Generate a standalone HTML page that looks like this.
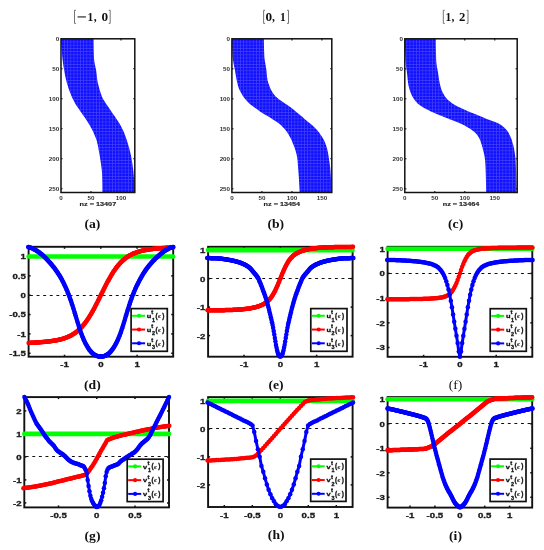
<!DOCTYPE html>
<html><head><meta charset="utf-8"><style>
html,body{margin:0;padding:0;background:#fff;}
svg{display:block;will-change:transform;}
</style></head><body>
<svg width="544" height="550" viewBox="0 0 544 550">
<defs>
<pattern id="spyfill" width="3.2" height="3.2" patternUnits="userSpaceOnUse">
<rect width="3.2" height="3.2" fill="#4040ff"/>
<rect x="0.7" y="0.7" width="2.5" height="2.5" fill="#1010ff"/>
</pattern>
<marker id="mb" markerUnits="userSpaceOnUse" markerWidth="6" markerHeight="6" refX="3" refY="3" viewBox="0 0 6 6" overflow="visible"><circle cx="3" cy="3" r="2.25" fill="#0000ff"/></marker>
<marker id="mr" markerUnits="userSpaceOnUse" markerWidth="6" markerHeight="6" refX="3" refY="3" viewBox="0 0 6 6" overflow="visible"><circle cx="3" cy="3" r="2.25" fill="#ff0000"/></marker>
<marker id="mg" markerUnits="userSpaceOnUse" markerWidth="6" markerHeight="6" refX="3" refY="3" viewBox="0 0 6 6" overflow="visible"><circle cx="3" cy="3" r="2.25" fill="#00ff00"/></marker>
</defs>
<rect width="544" height="550" fill="#fff"/>
<path d="M76,10.3 L74.5,10.3 L74.5,23.4 L76,23.4" fill="none" stroke="#666" stroke-width="0.9"/>
<rect x="77.6" y="16.35" width="8.3" height="1.15" fill="#222"/>
<text transform="translate(87.6,20.5) scale(1.0,1)" font-family='"Liberation Serif", serif' font-size="11.5" font-weight="bold" fill="#111">1</text>
<text transform="translate(93.8,20.5) scale(1.0,1)" font-family='"Liberation Serif", serif' font-size="11.5" font-weight="bold" fill="#111">,</text>
<text transform="translate(101.4,20.5) scale(1.15,1)" font-family='"Liberation Serif", serif' font-size="11.5" font-weight="bold" fill="#111">0</text>
<path d="M108.7,10.3 L110.2,10.3 L110.2,23.4 L108.7,23.4" fill="none" stroke="#666" stroke-width="0.9"/>
<path d="M265.1,10.3 L263.6,10.3 L263.6,23.4 L265.1,23.4" fill="none" stroke="#666" stroke-width="0.9"/>
<text transform="translate(265.4,20.5) scale(1.15,1)" font-family='"Liberation Serif", serif' font-size="11.5" font-weight="bold" fill="#111">0</text>
<text transform="translate(272,20.5) scale(1.0,1)" font-family='"Liberation Serif", serif' font-size="11.5" font-weight="bold" fill="#111">,</text>
<text transform="translate(280.1,20.5) scale(1.0,1)" font-family='"Liberation Serif", serif' font-size="11.5" font-weight="bold" fill="#111">1</text>
<path d="M287,10.3 L288.5,10.3 L288.5,23.4 L287,23.4" fill="none" stroke="#666" stroke-width="0.9"/>
<path d="M444.8,10.3 L443.3,10.3 L443.3,23.4 L444.8,23.4" fill="none" stroke="#666" stroke-width="0.9"/>
<text transform="translate(445.4,20.5) scale(1.0,1)" font-family='"Liberation Serif", serif' font-size="11.5" font-weight="bold" fill="#111">1</text>
<text transform="translate(451.6,20.5) scale(1.0,1)" font-family='"Liberation Serif", serif' font-size="11.5" font-weight="bold" fill="#111">,</text>
<text transform="translate(459.1,20.5) scale(1.1,1)" font-family='"Liberation Serif", serif' font-size="11.5" font-weight="bold" fill="#111">2</text>
<path d="M466.5,10.3 L468,10.3 L468,23.4 L466.5,23.4" fill="none" stroke="#666" stroke-width="0.9"/>
<text transform="translate(59.2,40.9) scale(1.1,1)" font-family='"Liberation Sans", sans-serif' font-size="5.7" font-weight="bold" text-anchor="end" fill="#333">0</text>
<line x1="61" y1="68.8" x2="62.6" y2="68.8" stroke="#111" stroke-width="1.1"/>
<line x1="134.8" y1="68.8" x2="133.2" y2="68.8" stroke="#111" stroke-width="1.1"/>
<text transform="translate(59.2,70.9) scale(1.1,1)" font-family='"Liberation Sans", sans-serif' font-size="5.7" font-weight="bold" text-anchor="end" fill="#333">50</text>
<line x1="61" y1="98.8" x2="62.6" y2="98.8" stroke="#111" stroke-width="1.1"/>
<line x1="134.8" y1="98.8" x2="133.2" y2="98.8" stroke="#111" stroke-width="1.1"/>
<text transform="translate(59.2,100.9) scale(1.1,1)" font-family='"Liberation Sans", sans-serif' font-size="5.7" font-weight="bold" text-anchor="end" fill="#333">100</text>
<line x1="61" y1="128.8" x2="62.6" y2="128.8" stroke="#111" stroke-width="1.1"/>
<line x1="134.8" y1="128.8" x2="133.2" y2="128.8" stroke="#111" stroke-width="1.1"/>
<text transform="translate(59.2,130.9) scale(1.1,1)" font-family='"Liberation Sans", sans-serif' font-size="5.7" font-weight="bold" text-anchor="end" fill="#333">150</text>
<line x1="61" y1="158.8" x2="62.6" y2="158.8" stroke="#111" stroke-width="1.1"/>
<line x1="134.8" y1="158.8" x2="133.2" y2="158.8" stroke="#111" stroke-width="1.1"/>
<text transform="translate(59.2,160.9) scale(1.1,1)" font-family='"Liberation Sans", sans-serif' font-size="5.7" font-weight="bold" text-anchor="end" fill="#333">200</text>
<line x1="61" y1="188.8" x2="62.6" y2="188.8" stroke="#111" stroke-width="1.1"/>
<line x1="134.8" y1="188.8" x2="133.2" y2="188.8" stroke="#111" stroke-width="1.1"/>
<text transform="translate(59.2,190.9) scale(1.1,1)" font-family='"Liberation Sans", sans-serif' font-size="5.7" font-weight="bold" text-anchor="end" fill="#333">250</text>
<text transform="translate(61,199.7) scale(1.1,1)" font-family='"Liberation Sans", sans-serif' font-size="5.7" font-weight="bold" text-anchor="middle" fill="#333">0</text>
<line x1="91" y1="38.8" x2="91" y2="40.4" stroke="#111" stroke-width="1.1"/>
<line x1="91" y1="192.5" x2="91" y2="190.9" stroke="#111" stroke-width="1.1"/>
<text transform="translate(91,199.7) scale(1.1,1)" font-family='"Liberation Sans", sans-serif' font-size="5.7" font-weight="bold" text-anchor="middle" fill="#333">50</text>
<line x1="121" y1="38.8" x2="121" y2="40.4" stroke="#111" stroke-width="1.1"/>
<line x1="121" y1="192.5" x2="121" y2="190.9" stroke="#111" stroke-width="1.1"/>
<text transform="translate(121,199.7) scale(1.1,1)" font-family='"Liberation Sans", sans-serif' font-size="5.7" font-weight="bold" text-anchor="middle" fill="#333">100</text>
<text transform="translate(97.9,206.3) scale(1.28,1)" font-family='"Liberation Sans", sans-serif' font-size="5.7" font-weight="bold" text-anchor="middle" fill="#222" stroke="#222" stroke-width="0.15">nz = 13407</text>
<path d="M61,38.8 L61.04,40.09 L61.1,41.38 L61.16,42.67 L61.23,43.97 L61.31,45.26 L61.4,46.55 L61.49,47.84 L61.59,49.13 L61.7,50.42 L61.81,51.72 L61.92,53.01 L62.04,54.3 L62.16,55.59 L62.29,56.88 L62.42,58.17 L62.56,59.47 L62.71,60.76 L62.87,62.05 L63.05,63.34 L63.24,64.63 L63.44,65.92 L63.64,67.22 L63.86,68.51 L64.08,69.8 L64.3,71.09 L64.53,72.38 L64.76,73.67 L65,74.96 L65.26,76.26 L65.53,77.55 L65.82,78.84 L66.13,80.13 L66.46,81.42 L66.82,82.71 L67.19,84.01 L67.58,85.3 L67.99,86.59 L68.41,87.88 L68.86,89.17 L69.31,90.46 L69.78,91.76 L70.27,93.05 L70.78,94.34 L71.32,95.63 L71.88,96.92 L72.47,98.21 L73.08,99.51 L73.72,100.8 L74.39,102.09 L75.12,103.38 L75.91,104.67 L76.74,105.96 L77.61,107.25 L78.5,108.55 L79.38,109.84 L80.25,111.13 L81.14,112.42 L82.04,113.71 L82.96,115 L83.89,116.3 L84.8,117.59 L85.69,118.88 L86.55,120.17 L87.36,121.46 L88.16,122.75 L88.95,124.05 L89.72,125.34 L90.47,126.63 L91.19,127.92 L91.88,129.21 L92.53,130.5 L93.14,131.79 L93.72,133.09 L94.3,134.38 L94.85,135.67 L95.38,136.96 L95.87,138.25 L96.32,139.54 L96.73,140.84 L97.09,142.13 L97.4,143.42 L97.69,144.71 L97.96,146 L98.21,147.29 L98.44,148.59 L98.67,149.88 L98.89,151.17 L99.12,152.46 L99.35,153.75 L99.58,155.04 L99.8,156.34 L100.02,157.63 L100.23,158.92 L100.42,160.21 L100.6,161.5 L100.79,162.79 L100.98,164.08 L101.17,165.38 L101.35,166.67 L101.52,167.96 L101.67,169.25 L101.81,170.54 L101.93,171.83 L102.02,173.13 L102.09,174.42 L102.13,175.71 L102.16,177 L102.2,178.29 L102.23,179.58 L102.26,180.88 L102.29,182.17 L102.31,183.46 L102.34,184.75 L102.35,186.04 L102.37,187.33 L102.38,188.63 L102.39,189.92 L102.4,191.21 L102.4,192.5 L134.8,192.5 L134.76,191.21 L134.72,189.92 L134.66,188.63 L134.6,187.33 L134.53,186.04 L134.45,184.75 L134.37,183.46 L134.28,182.17 L134.19,180.88 L134.09,179.58 L133.99,178.29 L133.88,177 L133.78,175.71 L133.67,174.42 L133.55,173.13 L133.42,171.83 L133.27,170.54 L133.12,169.25 L132.96,167.96 L132.78,166.67 L132.6,165.38 L132.42,164.08 L132.22,162.79 L132.02,161.5 L131.82,160.21 L131.6,158.92 L131.37,157.63 L131.12,156.34 L130.85,155.04 L130.57,153.75 L130.28,152.46 L129.98,151.17 L129.65,149.88 L129.31,148.59 L128.95,147.29 L128.58,146 L128.19,144.71 L127.8,143.42 L127.4,142.13 L127,140.84 L126.59,139.54 L126.16,138.25 L125.73,136.96 L125.27,135.67 L124.79,134.38 L124.28,133.09 L123.73,131.79 L123.15,130.5 L122.53,129.21 L121.88,127.92 L121.2,126.63 L120.49,125.34 L119.77,124.05 L119,122.75 L118.18,121.46 L117.33,120.17 L116.45,118.88 L115.56,117.59 L114.67,116.3 L113.8,115 L112.92,113.71 L112.03,112.42 L111.14,111.13 L110.25,109.84 L109.37,108.55 L108.5,107.25 L107.64,105.96 L106.76,104.67 L105.87,103.38 L104.99,102.09 L104.15,100.8 L103.37,99.51 L102.69,98.21 L102.11,96.92 L101.59,95.63 L101.11,94.34 L100.67,93.05 L100.26,91.76 L99.88,90.46 L99.5,89.17 L99.14,87.88 L98.78,86.59 L98.44,85.3 L98.11,84.01 L97.81,82.71 L97.54,81.42 L97.32,80.13 L97.14,78.84 L97,77.55 L96.87,76.26 L96.74,74.96 L96.61,73.67 L96.44,72.38 L96.24,71.09 L96,69.8 L95.74,68.51 L95.47,67.22 L95.19,65.92 L94.92,64.63 L94.66,63.34 L94.44,62.05 L94.24,60.76 L94.1,59.47 L94.01,58.17 L93.96,56.88 L93.91,55.59 L93.87,54.3 L93.83,53.01 L93.79,51.72 L93.76,50.42 L93.72,49.13 L93.7,47.84 L93.67,46.55 L93.65,45.26 L93.63,43.97 L93.62,42.67 L93.61,41.38 L93.6,40.09 L93.6,38.8 Z" fill="url(#spyfill)"/>
<rect x="61" y="38.8" width="73.8" height="153.7" fill="none" stroke="#111" stroke-width="1.5"/>
<text transform="translate(230.1,40.9) scale(1.1,1)" font-family='"Liberation Sans", sans-serif' font-size="5.7" font-weight="bold" text-anchor="end" fill="#333">0</text>
<line x1="231.9" y1="68.8" x2="233.5" y2="68.8" stroke="#111" stroke-width="1.1"/>
<line x1="331.8" y1="68.8" x2="330.2" y2="68.8" stroke="#111" stroke-width="1.1"/>
<text transform="translate(230.1,70.9) scale(1.1,1)" font-family='"Liberation Sans", sans-serif' font-size="5.7" font-weight="bold" text-anchor="end" fill="#333">50</text>
<line x1="231.9" y1="98.8" x2="233.5" y2="98.8" stroke="#111" stroke-width="1.1"/>
<line x1="331.8" y1="98.8" x2="330.2" y2="98.8" stroke="#111" stroke-width="1.1"/>
<text transform="translate(230.1,100.9) scale(1.1,1)" font-family='"Liberation Sans", sans-serif' font-size="5.7" font-weight="bold" text-anchor="end" fill="#333">100</text>
<line x1="231.9" y1="128.8" x2="233.5" y2="128.8" stroke="#111" stroke-width="1.1"/>
<line x1="331.8" y1="128.8" x2="330.2" y2="128.8" stroke="#111" stroke-width="1.1"/>
<text transform="translate(230.1,130.9) scale(1.1,1)" font-family='"Liberation Sans", sans-serif' font-size="5.7" font-weight="bold" text-anchor="end" fill="#333">150</text>
<line x1="231.9" y1="158.8" x2="233.5" y2="158.8" stroke="#111" stroke-width="1.1"/>
<line x1="331.8" y1="158.8" x2="330.2" y2="158.8" stroke="#111" stroke-width="1.1"/>
<text transform="translate(230.1,160.9) scale(1.1,1)" font-family='"Liberation Sans", sans-serif' font-size="5.7" font-weight="bold" text-anchor="end" fill="#333">200</text>
<line x1="231.9" y1="188.8" x2="233.5" y2="188.8" stroke="#111" stroke-width="1.1"/>
<line x1="331.8" y1="188.8" x2="330.2" y2="188.8" stroke="#111" stroke-width="1.1"/>
<text transform="translate(230.1,190.9) scale(1.1,1)" font-family='"Liberation Sans", sans-serif' font-size="5.7" font-weight="bold" text-anchor="end" fill="#333">250</text>
<text transform="translate(231.9,199.7) scale(1.1,1)" font-family='"Liberation Sans", sans-serif' font-size="5.7" font-weight="bold" text-anchor="middle" fill="#333">0</text>
<line x1="261.9" y1="38.8" x2="261.9" y2="40.4" stroke="#111" stroke-width="1.1"/>
<line x1="261.9" y1="192.5" x2="261.9" y2="190.9" stroke="#111" stroke-width="1.1"/>
<text transform="translate(261.9,199.7) scale(1.1,1)" font-family='"Liberation Sans", sans-serif' font-size="5.7" font-weight="bold" text-anchor="middle" fill="#333">50</text>
<line x1="291.9" y1="38.8" x2="291.9" y2="40.4" stroke="#111" stroke-width="1.1"/>
<line x1="291.9" y1="192.5" x2="291.9" y2="190.9" stroke="#111" stroke-width="1.1"/>
<text transform="translate(291.9,199.7) scale(1.1,1)" font-family='"Liberation Sans", sans-serif' font-size="5.7" font-weight="bold" text-anchor="middle" fill="#333">100</text>
<line x1="321.9" y1="38.8" x2="321.9" y2="40.4" stroke="#111" stroke-width="1.1"/>
<line x1="321.9" y1="192.5" x2="321.9" y2="190.9" stroke="#111" stroke-width="1.1"/>
<text transform="translate(321.9,199.7) scale(1.1,1)" font-family='"Liberation Sans", sans-serif' font-size="5.7" font-weight="bold" text-anchor="middle" fill="#333">150</text>
<text transform="translate(281.85,206.3) scale(1.28,1)" font-family='"Liberation Sans", sans-serif' font-size="5.7" font-weight="bold" text-anchor="middle" fill="#222" stroke="#222" stroke-width="0.15">nz = 13454</text>
<path d="M232,38.8 L232,40.09 L232.01,41.38 L232.03,42.67 L232.05,43.97 L232.08,45.26 L232.11,46.55 L232.15,47.84 L232.2,49.13 L232.25,50.42 L232.3,51.72 L232.36,53.01 L232.42,54.3 L232.48,55.59 L232.57,56.88 L232.7,58.17 L232.87,59.47 L233.07,60.76 L233.3,62.05 L233.54,63.34 L233.78,64.63 L234.02,65.92 L234.29,67.22 L234.58,68.51 L234.86,69.8 L235.1,71.09 L235.32,72.38 L235.52,73.67 L235.73,74.96 L235.94,76.26 L236.16,77.55 L236.41,78.84 L236.67,80.13 L236.95,81.42 L237.24,82.71 L237.55,84.01 L237.89,85.3 L238.27,86.59 L238.7,87.88 L239.2,89.17 L239.78,90.46 L240.43,91.76 L241.14,93.05 L241.9,94.34 L242.7,95.63 L243.57,96.92 L244.53,98.21 L245.56,99.51 L246.69,100.8 L247.9,102.09 L249.24,103.38 L250.78,104.67 L252.47,105.96 L254.22,107.25 L255.97,108.55 L257.75,109.84 L259.6,111.13 L261.51,112.42 L263.49,113.71 L265.62,115 L267.85,116.3 L270.04,117.59 L272.09,118.88 L274.1,120.17 L276.06,121.46 L277.91,122.75 L279.58,124.05 L281.06,125.34 L282.42,126.63 L283.68,127.92 L284.82,129.21 L285.86,130.5 L286.8,131.79 L287.68,133.09 L288.5,134.38 L289.26,135.67 L289.97,136.96 L290.63,138.25 L291.24,139.54 L291.82,140.84 L292.36,142.13 L292.88,143.42 L293.39,144.71 L293.89,146 L294.39,147.29 L294.88,148.59 L295.33,149.88 L295.73,151.17 L296.07,152.46 L296.39,153.75 L296.69,155.04 L296.96,156.34 L297.19,157.63 L297.38,158.92 L297.52,160.21 L297.64,161.5 L297.74,162.79 L297.83,164.08 L297.92,165.38 L298.01,166.67 L298.1,167.96 L298.21,169.25 L298.32,170.54 L298.42,171.83 L298.53,173.13 L298.63,174.42 L298.73,175.71 L298.82,177 L298.91,178.29 L298.98,179.58 L299.06,180.88 L299.13,182.17 L299.2,183.46 L299.27,184.75 L299.34,186.04 L299.4,187.33 L299.45,188.63 L299.51,189.92 L299.56,191.21 L299.6,192.5 L331.4,192.5 L331.4,191.21 L331.38,189.92 L331.36,188.63 L331.33,187.33 L331.3,186.04 L331.25,184.75 L331.2,183.46 L331.15,182.17 L331.09,180.88 L331.02,179.58 L330.96,178.29 L330.88,177 L330.81,175.71 L330.73,174.42 L330.64,173.13 L330.56,171.83 L330.48,170.54 L330.37,169.25 L330.24,167.96 L330.09,166.67 L329.92,165.38 L329.74,164.08 L329.55,162.79 L329.36,161.5 L329.16,160.21 L328.97,158.92 L328.78,157.63 L328.59,156.34 L328.39,155.04 L328.18,153.75 L327.94,152.46 L327.69,151.17 L327.4,149.88 L327.08,148.59 L326.71,147.29 L326.31,146 L325.86,144.71 L325.38,143.42 L324.86,142.13 L324.3,140.84 L323.65,139.54 L322.92,138.25 L322.13,136.96 L321.28,135.67 L320.39,134.38 L319.47,133.09 L318.49,131.79 L317.43,130.5 L316.31,129.21 L315.11,127.92 L313.82,126.63 L312.34,125.34 L310.72,124.05 L309.13,122.75 L307.6,121.46 L306.09,120.17 L304.59,118.88 L303.07,117.59 L301.55,116.3 L300.04,115 L298.53,113.71 L296.99,112.42 L295.41,111.13 L293.81,109.84 L292.19,108.55 L290.52,107.25 L288.81,105.96 L287,104.67 L285.01,103.38 L282.95,102.09 L280.97,100.8 L279.23,99.51 L277.7,98.21 L276.26,96.92 L274.96,95.63 L273.82,94.34 L272.9,93.05 L272.1,91.76 L271.38,90.46 L270.74,89.17 L270.17,87.88 L269.65,86.59 L269.16,85.3 L268.7,84.01 L268.26,82.71 L267.88,81.42 L267.55,80.13 L267.31,78.84 L267.13,77.55 L266.98,76.26 L266.86,74.96 L266.75,73.67 L266.64,72.38 L266.52,71.09 L266.38,69.8 L266.2,68.51 L265.99,67.22 L265.76,65.92 L265.52,64.63 L265.28,63.34 L265.05,62.05 L264.83,60.76 L264.64,59.47 L264.48,58.17 L264.36,56.88 L264.29,55.59 L264.24,54.3 L264.19,53.01 L264.14,51.72 L264.1,50.42 L264.06,49.13 L264.02,47.84 L263.99,46.55 L263.97,45.26 L263.94,43.97 L263.92,42.67 L263.91,41.38 L263.9,40.09 L263.9,38.8 Z" fill="url(#spyfill)"/>
<rect x="231.9" y="38.8" width="99.9" height="153.7" fill="none" stroke="#111" stroke-width="1.5"/>
<text transform="translate(403,40.9) scale(1.1,1)" font-family='"Liberation Sans", sans-serif' font-size="5.7" font-weight="bold" text-anchor="end" fill="#333">0</text>
<line x1="404.8" y1="68.8" x2="406.4" y2="68.8" stroke="#111" stroke-width="1.1"/>
<line x1="517.2" y1="68.8" x2="515.6" y2="68.8" stroke="#111" stroke-width="1.1"/>
<text transform="translate(403,70.9) scale(1.1,1)" font-family='"Liberation Sans", sans-serif' font-size="5.7" font-weight="bold" text-anchor="end" fill="#333">50</text>
<line x1="404.8" y1="98.8" x2="406.4" y2="98.8" stroke="#111" stroke-width="1.1"/>
<line x1="517.2" y1="98.8" x2="515.6" y2="98.8" stroke="#111" stroke-width="1.1"/>
<text transform="translate(403,100.9) scale(1.1,1)" font-family='"Liberation Sans", sans-serif' font-size="5.7" font-weight="bold" text-anchor="end" fill="#333">100</text>
<line x1="404.8" y1="128.8" x2="406.4" y2="128.8" stroke="#111" stroke-width="1.1"/>
<line x1="517.2" y1="128.8" x2="515.6" y2="128.8" stroke="#111" stroke-width="1.1"/>
<text transform="translate(403,130.9) scale(1.1,1)" font-family='"Liberation Sans", sans-serif' font-size="5.7" font-weight="bold" text-anchor="end" fill="#333">150</text>
<line x1="404.8" y1="158.8" x2="406.4" y2="158.8" stroke="#111" stroke-width="1.1"/>
<line x1="517.2" y1="158.8" x2="515.6" y2="158.8" stroke="#111" stroke-width="1.1"/>
<text transform="translate(403,160.9) scale(1.1,1)" font-family='"Liberation Sans", sans-serif' font-size="5.7" font-weight="bold" text-anchor="end" fill="#333">200</text>
<line x1="404.8" y1="188.8" x2="406.4" y2="188.8" stroke="#111" stroke-width="1.1"/>
<line x1="517.2" y1="188.8" x2="515.6" y2="188.8" stroke="#111" stroke-width="1.1"/>
<text transform="translate(403,190.9) scale(1.1,1)" font-family='"Liberation Sans", sans-serif' font-size="5.7" font-weight="bold" text-anchor="end" fill="#333">250</text>
<text transform="translate(404.8,199.7) scale(1.1,1)" font-family='"Liberation Sans", sans-serif' font-size="5.7" font-weight="bold" text-anchor="middle" fill="#333">0</text>
<line x1="434.8" y1="38.8" x2="434.8" y2="40.4" stroke="#111" stroke-width="1.1"/>
<line x1="434.8" y1="192.5" x2="434.8" y2="190.9" stroke="#111" stroke-width="1.1"/>
<text transform="translate(434.8,199.7) scale(1.1,1)" font-family='"Liberation Sans", sans-serif' font-size="5.7" font-weight="bold" text-anchor="middle" fill="#333">50</text>
<line x1="464.8" y1="38.8" x2="464.8" y2="40.4" stroke="#111" stroke-width="1.1"/>
<line x1="464.8" y1="192.5" x2="464.8" y2="190.9" stroke="#111" stroke-width="1.1"/>
<text transform="translate(464.8,199.7) scale(1.1,1)" font-family='"Liberation Sans", sans-serif' font-size="5.7" font-weight="bold" text-anchor="middle" fill="#333">100</text>
<line x1="494.8" y1="38.8" x2="494.8" y2="40.4" stroke="#111" stroke-width="1.1"/>
<line x1="494.8" y1="192.5" x2="494.8" y2="190.9" stroke="#111" stroke-width="1.1"/>
<text transform="translate(494.8,199.7) scale(1.1,1)" font-family='"Liberation Sans", sans-serif' font-size="5.7" font-weight="bold" text-anchor="middle" fill="#333">150</text>
<text transform="translate(461,206.3) scale(1.28,1)" font-family='"Liberation Sans", sans-serif' font-size="5.7" font-weight="bold" text-anchor="middle" fill="#222" stroke="#222" stroke-width="0.15">nz = 13464</text>
<path d="M404.9,38.8 L404.9,40.09 L404.91,41.38 L404.93,42.67 L404.94,43.97 L404.97,45.26 L405,46.55 L405.03,47.84 L405.07,49.13 L405.11,50.42 L405.15,51.72 L405.2,53.01 L405.25,54.3 L405.3,55.59 L405.36,56.88 L405.42,58.17 L405.48,59.47 L405.54,60.76 L405.63,62.05 L405.74,63.34 L405.88,64.63 L406.03,65.92 L406.19,67.22 L406.36,68.51 L406.53,69.8 L406.71,71.09 L406.88,72.38 L407.04,73.67 L407.2,74.96 L407.34,76.26 L407.46,77.55 L407.59,78.84 L407.72,80.13 L407.87,81.42 L408.04,82.71 L408.23,84.01 L408.47,85.3 L408.75,86.59 L409.08,87.88 L409.45,89.17 L409.85,90.46 L410.29,91.76 L410.77,93.05 L411.31,94.34 L411.93,95.63 L412.63,96.92 L413.42,98.21 L414.29,99.51 L415.24,100.8 L416.31,102.09 L417.63,103.38 L419.2,104.67 L420.96,105.96 L422.88,107.25 L425.06,108.55 L427.61,109.84 L430.39,111.13 L433.23,112.42 L436.1,113.71 L439.09,115 L442.21,116.3 L445.47,117.59 L448.97,118.88 L452.42,120.17 L455.6,121.46 L458.67,122.75 L461.55,124.05 L464.15,125.34 L466.57,126.63 L468.79,127.92 L470.74,129.21 L472.47,130.5 L474.08,131.79 L475.54,133.09 L476.78,134.38 L477.75,135.67 L478.55,136.96 L479.23,138.25 L479.83,139.54 L480.36,140.84 L480.84,142.13 L481.28,143.42 L481.68,144.71 L482.05,146 L482.39,147.29 L482.72,148.59 L483.05,149.88 L483.38,151.17 L483.71,152.46 L484.02,153.75 L484.3,155.04 L484.55,156.34 L484.76,157.63 L484.91,158.92 L485.04,160.21 L485.15,161.5 L485.26,162.79 L485.35,164.08 L485.43,165.38 L485.5,166.67 L485.56,167.96 L485.61,169.25 L485.65,170.54 L485.69,171.83 L485.74,173.13 L485.78,174.42 L485.82,175.71 L485.85,177 L485.89,178.29 L485.92,179.58 L485.95,180.88 L485.98,182.17 L486.01,183.46 L486.03,184.75 L486.05,186.04 L486.07,187.33 L486.08,188.63 L486.09,189.92 L486.1,191.21 L486.1,192.5 L516.5,192.5 L516.49,191.21 L516.47,189.92 L516.45,188.63 L516.44,187.33 L516.42,186.04 L516.39,184.75 L516.37,183.46 L516.34,182.17 L516.32,180.88 L516.29,179.58 L516.26,178.29 L516.23,177 L516.2,175.71 L516.17,174.42 L516.14,173.13 L516.1,171.83 L516.06,170.54 L516.02,169.25 L515.98,167.96 L515.93,166.67 L515.87,165.38 L515.81,164.08 L515.75,162.79 L515.68,161.5 L515.6,160.21 L515.49,158.92 L515.36,157.63 L515.22,156.34 L515.05,155.04 L514.88,153.75 L514.69,152.46 L514.49,151.17 L514.28,149.88 L514.04,148.59 L513.77,147.29 L513.46,146 L513.13,144.71 L512.77,143.42 L512.39,142.13 L511.99,140.84 L511.56,139.54 L511.09,138.25 L510.58,136.96 L510.02,135.67 L509.4,134.38 L508.7,133.09 L507.9,131.79 L506.98,130.5 L505.92,129.21 L504.72,127.92 L503.28,126.63 L501.52,125.34 L499.46,124.05 L497,122.75 L493.81,121.46 L490.25,120.17 L486.72,118.88 L483.52,117.59 L480.45,116.3 L477.4,115 L474.3,113.71 L471.09,112.42 L467.87,111.13 L464.83,109.84 L462,108.55 L459.25,107.25 L456.69,105.96 L454.43,104.67 L452.45,103.38 L450.61,102.09 L448.94,100.8 L447.51,99.51 L446.37,98.21 L445.38,96.92 L444.49,95.63 L443.68,94.34 L442.96,93.05 L442.33,91.76 L441.78,90.46 L441.32,89.17 L440.91,87.88 L440.55,86.59 L440.22,85.3 L439.92,84.01 L439.65,82.71 L439.4,81.42 L439.16,80.13 L438.95,78.84 L438.77,77.55 L438.58,76.26 L438.39,74.96 L438.19,73.67 L437.97,72.38 L437.74,71.09 L437.5,69.8 L437.26,68.51 L437.04,67.22 L436.82,65.92 L436.63,64.63 L436.46,63.34 L436.33,62.05 L436.23,60.76 L436.18,59.47 L436.14,58.17 L436.1,56.88 L436.06,55.59 L436.02,54.3 L435.99,53.01 L435.96,51.72 L435.93,50.42 L435.9,49.13 L435.88,47.84 L435.86,46.55 L435.84,45.26 L435.83,43.97 L435.81,42.67 L435.81,41.38 L435.8,40.09 L435.8,38.8 Z" fill="url(#spyfill)"/>
<rect x="404.8" y="38.8" width="112.4" height="153.7" fill="none" stroke="#111" stroke-width="1.5"/>
<text transform="translate(92.4,228.4) scale(1.12,1)" font-family='"Liberation Serif", serif' font-size="12.2" font-weight="bold" text-anchor="middle" fill="#111">(a)</text>
<text transform="translate(275.8,228.4) scale(1.12,1)" font-family='"Liberation Serif", serif' font-size="12.2" font-weight="bold" text-anchor="middle" fill="#111">(b)</text>
<text transform="translate(455.6,228.4) scale(1.12,1)" font-family='"Liberation Serif", serif' font-size="12.2" font-weight="bold" text-anchor="middle" fill="#111">(c)</text>
<text transform="translate(92.4,388.6) scale(1.12,1)" font-family='"Liberation Serif", serif' font-size="12.2" font-weight="bold" text-anchor="middle" fill="#111">(d)</text>
<text transform="translate(276,389) scale(1.12,1)" font-family='"Liberation Serif", serif' font-size="12.2" font-weight="bold" text-anchor="middle" fill="#111">(e)</text>
<text transform="translate(455.5,388.9) scale(1.12,1)" font-family='"Liberation Serif", serif' font-size="12.2" font-weight="normal" text-anchor="middle" fill="#111">(f)</text>
<text transform="translate(92.5,539.6) scale(1.12,1)" font-family='"Liberation Serif", serif' font-size="12.2" font-weight="bold" text-anchor="middle" fill="#111">(g)</text>
<text transform="translate(276.2,539.4) scale(1.12,1)" font-family='"Liberation Serif", serif' font-size="12.2" font-weight="bold" text-anchor="middle" fill="#111">(h)</text>
<text transform="translate(455.5,539.6) scale(1.12,1)" font-family='"Liberation Serif", serif' font-size="12.2" font-weight="bold" text-anchor="middle" fill="#111">(i)</text>
<line x1="28.6" y1="295.5" x2="173.2" y2="295.5" stroke="#111" stroke-width="1" stroke-dasharray="2.9 3.7" stroke-dashoffset="-1.4"/>
<rect x="28.6" y="246.8" width="144.6" height="109.9" fill="none" stroke="#111" stroke-width="1.9"/>
<line x1="64.5" y1="246.8" x2="64.5" y2="248.8" stroke="#111" stroke-width="1.5"/>
<line x1="64.5" y1="356.7" x2="64.5" y2="354.7" stroke="#111" stroke-width="1.5"/>
<text transform="translate(64.5,367.2) scale(1.27,1)" font-family='"Liberation Sans", sans-serif' font-size="7.6" font-weight="bold" text-anchor="middle" fill="#1a1a1a" stroke="#1a1a1a" stroke-width="0.3">-1</text>
<line x1="100.8" y1="246.8" x2="100.8" y2="248.8" stroke="#111" stroke-width="1.5"/>
<line x1="100.8" y1="356.7" x2="100.8" y2="354.7" stroke="#111" stroke-width="1.5"/>
<text transform="translate(100.8,367.2) scale(1.27,1)" font-family='"Liberation Sans", sans-serif' font-size="7.6" font-weight="bold" text-anchor="middle" fill="#1a1a1a" stroke="#1a1a1a" stroke-width="0.3">0</text>
<line x1="137.1" y1="246.8" x2="137.1" y2="248.8" stroke="#111" stroke-width="1.5"/>
<line x1="137.1" y1="356.7" x2="137.1" y2="354.7" stroke="#111" stroke-width="1.5"/>
<text transform="translate(137.1,367.2) scale(1.27,1)" font-family='"Liberation Sans", sans-serif' font-size="7.6" font-weight="bold" text-anchor="middle" fill="#1a1a1a" stroke="#1a1a1a" stroke-width="0.3">1</text>
<line x1="28.6" y1="256.5" x2="30.6" y2="256.5" stroke="#111" stroke-width="1.5"/>
<line x1="173.2" y1="256.5" x2="171.2" y2="256.5" stroke="#111" stroke-width="1.5"/>
<text transform="translate(25.9,259.4) scale(1.27,1)" font-family='"Liberation Sans", sans-serif' font-size="7.6" font-weight="bold" text-anchor="end" fill="#1a1a1a" stroke="#1a1a1a" stroke-width="0.3">1</text>
<line x1="28.6" y1="275.85" x2="30.6" y2="275.85" stroke="#111" stroke-width="1.5"/>
<line x1="173.2" y1="275.85" x2="171.2" y2="275.85" stroke="#111" stroke-width="1.5"/>
<text transform="translate(25.9,278.75) scale(1.27,1)" font-family='"Liberation Sans", sans-serif' font-size="7.6" font-weight="bold" text-anchor="end" fill="#1a1a1a" stroke="#1a1a1a" stroke-width="0.3">0.5</text>
<line x1="28.6" y1="295.2" x2="30.6" y2="295.2" stroke="#111" stroke-width="1.5"/>
<line x1="173.2" y1="295.2" x2="171.2" y2="295.2" stroke="#111" stroke-width="1.5"/>
<text transform="translate(25.9,298.1) scale(1.27,1)" font-family='"Liberation Sans", sans-serif' font-size="7.6" font-weight="bold" text-anchor="end" fill="#1a1a1a" stroke="#1a1a1a" stroke-width="0.3">0</text>
<line x1="28.6" y1="314.55" x2="30.6" y2="314.55" stroke="#111" stroke-width="1.5"/>
<line x1="173.2" y1="314.55" x2="171.2" y2="314.55" stroke="#111" stroke-width="1.5"/>
<text transform="translate(25.9,317.45) scale(1.27,1)" font-family='"Liberation Sans", sans-serif' font-size="7.6" font-weight="bold" text-anchor="end" fill="#1a1a1a" stroke="#1a1a1a" stroke-width="0.3">-0.5</text>
<line x1="28.6" y1="333.9" x2="30.6" y2="333.9" stroke="#111" stroke-width="1.5"/>
<line x1="173.2" y1="333.9" x2="171.2" y2="333.9" stroke="#111" stroke-width="1.5"/>
<text transform="translate(25.9,336.8) scale(1.27,1)" font-family='"Liberation Sans", sans-serif' font-size="7.6" font-weight="bold" text-anchor="end" fill="#1a1a1a" stroke="#1a1a1a" stroke-width="0.3">-1</text>
<line x1="28.6" y1="353.25" x2="30.6" y2="353.25" stroke="#111" stroke-width="1.5"/>
<line x1="173.2" y1="353.25" x2="171.2" y2="353.25" stroke="#111" stroke-width="1.5"/>
<text transform="translate(25.9,356.15) scale(1.27,1)" font-family='"Liberation Sans", sans-serif' font-size="7.6" font-weight="bold" text-anchor="end" fill="#1a1a1a" stroke="#1a1a1a" stroke-width="0.3">-1.5</text>
<line x1="28.6" y1="256.5" x2="173.2" y2="256.5" stroke="#00ff00" stroke-width="4.6" stroke-linecap="round"/>
<path d="M28.6,342.95 29.17,342.92 29.73,342.89 30.3,342.86 30.87,342.83 31.43,342.8 32,342.77 32.56,342.74 33.13,342.7 33.7,342.67 34.26,342.64 34.83,342.6 35.4,342.56 35.96,342.53 36.53,342.49 37.09,342.45 37.66,342.42 38.23,342.38 38.79,342.34 39.36,342.3 39.93,342.25 40.49,342.21 41.06,342.17 41.62,342.12 42.19,342.07 42.76,342.03 43.32,341.98 43.89,341.93 44.46,341.87 45.02,341.82 45.59,341.77 46.15,341.71 46.72,341.65 47.29,341.59 47.85,341.53 48.42,341.46 48.99,341.4 49.55,341.33 50.12,341.26 50.68,341.19 51.25,341.11 51.82,341.03 52.38,340.95 52.95,340.87 53.52,340.78 54.08,340.69 54.65,340.59 55.21,340.5 55.78,340.4 56.35,340.29 56.91,340.18 57.48,340.07 58.05,339.95 58.61,339.83 59.18,339.7 59.75,339.57 60.31,339.43 60.88,339.29 61.44,339.14 62.01,338.98 62.58,338.82 63.14,338.65 63.71,338.48 64.28,338.29 64.84,338.1 65.41,337.91 65.97,337.7 66.54,337.48 67.11,337.26 67.67,337.03 68.24,336.78 68.81,336.53 69.37,336.27 69.94,335.99 70.5,335.71 71.07,335.41 71.64,335.1 72.2,334.78 72.77,334.44 73.34,334.09 73.9,333.73 74.47,333.35 75.03,332.95 75.6,332.55 76.17,332.12 76.73,331.68 77.3,331.22 77.87,330.75 78.43,330.25 79,329.74 79.56,329.21 80.13,328.66 80.7,328.09 81.26,327.5 81.83,326.89 82.4,326.26 82.96,325.61 83.53,324.94 84.09,324.24 84.66,323.53 85.23,322.79 85.79,322.03 86.36,321.25 86.93,320.45 87.49,319.62 88.06,318.78 88.63,317.91 89.19,317.02 89.76,316.11 90.32,315.18 90.89,314.23 91.46,313.25 92.02,312.27 92.59,311.26 93.16,310.23 93.72,309.19 94.29,308.13 94.85,307.06 95.42,305.97 95.99,304.87 96.55,303.76 97.12,302.64 97.69,301.51 98.25,300.38 98.82,299.23 99.38,298.08 99.95,296.93 100.52,295.78 101.08,294.62 101.65,293.47 102.22,292.32 102.78,291.17 103.35,290.02 103.91,288.89 104.48,287.76 105.05,286.64 105.61,285.53 106.18,284.43 106.75,283.34 107.31,282.27 107.88,281.21 108.44,280.17 109.01,279.14 109.58,278.13 110.14,277.15 110.71,276.17 111.28,275.22 111.84,274.29 112.41,273.38 112.97,272.49 113.54,271.62 114.11,270.78 114.67,269.95 115.24,269.15 115.81,268.37 116.37,267.61 116.94,266.87 117.51,266.16 118.07,265.46 118.64,264.79 119.2,264.14 119.77,263.51 120.34,262.9 120.9,262.31 121.47,261.74 122.04,261.19 122.6,260.66 123.17,260.15 123.73,259.65 124.3,259.18 124.87,258.72 125.43,258.28 126,257.85 126.57,257.45 127.13,257.05 127.7,256.67 128.26,256.31 128.83,255.96 129.4,255.62 129.96,255.3 130.53,254.99 131.1,254.69 131.66,254.41 132.23,254.13 132.79,253.87 133.36,253.62 133.93,253.37 134.49,253.14 135.06,252.92 135.63,252.7 136.19,252.49 136.76,252.3 137.32,252.11 137.89,251.92 138.46,251.75 139.02,251.58 139.59,251.42 140.16,251.26 140.72,251.11 141.29,250.97 141.85,250.83 142.42,250.7 142.99,250.57 143.55,250.45 144.12,250.33 144.69,250.22 145.25,250.11 145.82,250 146.39,249.9 146.95,249.81 147.52,249.71 148.08,249.62 148.65,249.53 149.22,249.45 149.78,249.37 150.35,249.29 150.92,249.21 151.48,249.14 152.05,249.07 152.61,249 153.18,248.94 153.75,248.87 154.31,248.81 154.88,248.75 155.45,248.69 156.01,248.63 156.58,248.58 157.14,248.53 157.71,248.47 158.28,248.42 158.84,248.37 159.41,248.33 159.98,248.28 160.54,248.23 161.11,248.19 161.67,248.15 162.24,248.1 162.81,248.06 163.37,248.02 163.94,247.98 164.51,247.95 165.07,247.91 165.64,247.87 166.2,247.84 166.77,247.8 167.34,247.76 167.9,247.73 168.47,247.7 169.04,247.66 169.6,247.63 170.17,247.6 170.73,247.57 171.3,247.54 171.87,247.51 172.43,247.48 173,247.45" fill="none" stroke="#ff0000" stroke-width="3.0" stroke-linejoin="round" marker-start="url(#mr)" marker-mid="url(#mr)" marker-end="url(#mr)"/>
<path d="M28.2,246.96 28.77,247.11 29.34,247.28 29.91,247.46 30.48,247.66 31.05,247.88 31.62,248.1 32.19,248.34 32.76,248.6 33.32,248.87 33.89,249.16 34.46,249.46 35.03,249.77 35.6,250.1 36.17,250.44 36.74,250.79 37.31,251.16 37.88,251.54 38.45,251.94 39.02,252.35 39.59,252.77 40.16,253.21 40.73,253.66 41.3,254.12 41.87,254.59 42.44,255.08 43,255.58 43.57,256.09 44.14,256.62 44.71,257.16 45.28,257.7 45.85,258.27 46.42,258.84 46.99,259.43 47.56,260.02 48.13,260.63 48.7,261.26 49.27,261.89 49.84,262.53 50.41,263.19 50.98,263.85 51.55,264.53 52.12,265.22 52.68,265.92 53.25,266.64 53.82,267.36 54.39,268.1 54.96,268.86 55.53,269.64 56.1,270.43 56.67,271.24 57.24,272.07 57.81,272.93 58.38,273.8 58.95,274.7 59.52,275.62 60.09,276.57 60.66,277.55 61.23,278.55 61.8,279.58 62.36,280.64 62.93,281.74 63.5,282.86 64.07,284.02 64.64,285.21 65.21,286.43 65.78,287.7 66.35,288.99 66.92,290.33 67.49,291.71 68.06,293.13 68.63,294.59 69.2,296.09 69.77,297.63 70.34,299.22 70.91,300.85 71.48,302.53 72.04,304.24 72.61,305.99 73.18,307.77 73.75,309.58 74.32,311.42 74.89,313.29 75.46,315.17 76.03,317.07 76.6,318.98 77.17,320.88 77.74,322.76 78.31,324.62 78.88,326.43 79.45,328.19 80.02,329.9 80.59,331.55 81.16,333.14 81.72,334.68 82.29,336.15 82.86,337.57 83.43,338.92 84,340.22 84.57,341.46 85.14,342.64 85.71,343.77 86.28,344.84 86.85,345.85 87.42,346.82 87.99,347.73 88.56,348.59 89.13,349.39 89.7,350.15 90.27,350.86 90.84,351.53 91.4,352.15 91.97,352.72 92.54,353.25 93.11,353.74 93.68,354.18 94.25,354.58 94.82,354.95 95.39,355.27 95.96,355.56 96.53,355.81 97.1,356.03 97.67,356.21 98.24,356.36 98.81,356.47 99.38,356.56 99.95,356.61 100.52,356.63 101.08,356.63 101.65,356.6 102.22,356.54 102.79,356.44 103.36,356.32 103.93,356.17 104.5,355.98 105.07,355.76 105.64,355.5 106.21,355.2 106.78,354.87 107.35,354.51 107.92,354.1 108.49,353.65 109.06,353.16 109.63,352.63 110.2,352.06 110.76,351.44 111.33,350.78 111.9,350.07 112.47,349.31 113.04,348.51 113.61,347.66 114.18,346.75 114.75,345.8 115.32,344.79 115.89,343.74 116.46,342.63 117.03,341.46 117.6,340.24 118.17,338.96 118.74,337.62 119.31,336.22 119.88,334.77 120.44,333.25 121.01,331.67 121.58,330.03 122.15,328.33 122.72,326.56 123.29,324.73 123.86,322.86 124.43,320.95 125,319.02 125.57,317.09 126.14,315.16 126.71,313.25 127.28,311.36 127.85,309.5 128.42,307.67 128.99,305.88 129.56,304.13 130.12,302.41 130.69,300.75 131.26,299.13 131.83,297.56 132.4,296.04 132.97,294.57 133.54,293.15 134.11,291.76 134.68,290.42 135.25,289.1 135.82,287.82 136.39,286.57 136.96,285.36 137.53,284.17 138.1,283.01 138.67,281.88 139.24,280.78 139.8,279.7 140.37,278.66 140.94,277.64 141.51,276.64 142.08,275.67 142.65,274.73 143.22,273.81 143.79,272.91 144.36,272.03 144.93,271.18 145.5,270.35 146.07,269.54 146.64,268.75 147.21,267.98 147.78,267.22 148.35,266.49 148.92,265.77 149.48,265.07 150.05,264.38 150.62,263.72 151.19,263.06 151.76,262.42 152.33,261.8 152.9,261.18 153.47,260.58 154.04,259.99 154.61,259.41 155.18,258.85 155.75,258.29 156.32,257.74 156.89,257.2 157.46,256.67 158.03,256.16 158.6,255.65 159.16,255.15 159.73,254.67 160.3,254.19 160.87,253.73 161.44,253.28 162.01,252.84 162.58,252.41 163.15,252 163.72,251.59 164.29,251.21 164.86,250.83 165.43,250.47 166,250.12 166.57,249.78 167.14,249.46 167.71,249.16 168.28,248.86 168.84,248.59 169.41,248.33 169.98,248.08 170.55,247.85 171.12,247.64 171.69,247.44 172.26,247.25 172.83,247.09 173.4,246.94" fill="none" stroke="#0000ff" stroke-width="3.0" stroke-linejoin="round" marker-start="url(#mb)" marker-mid="url(#mb)" marker-end="url(#mb)"/>
<rect x="131.1" y="308.6" width="36.2" height="42.7" fill="#fff" stroke="#111" stroke-width="1.7"/>
<line x1="132.1" y1="315.8" x2="145.1" y2="315.8" stroke="#00ff00" stroke-width="2"/>
<circle cx="139" cy="315.8" r="2.05" fill="#00ff00"/>
<text transform="translate(146.8,318) scale(1.2,1)" font-family='"Liberation Sans", sans-serif' font-size="6.2" font-weight="bold" fill="#111" stroke="#111" stroke-width="0.3">u</text>
<text x="151.3" y="314.35" font-family='"Liberation Sans", sans-serif' font-size="5.9" font-weight="bold" fill="#111" stroke="#111" stroke-width="0.3">t</text>
<text x="151.9" y="321.7" font-family='"Liberation Sans", sans-serif' font-size="5.4" font-weight="bold" fill="#111" stroke="#111" stroke-width="0.3">1</text>
<text x="155.4" y="317.8" font-family='"Liberation Sans", sans-serif' font-size="6.4" font-weight="bold" fill="#111" stroke="#111" stroke-width="0.3">(</text>
<text x="158" y="318" font-family='"Liberation Serif", serif' font-size="6.6" font-style="italic" fill="#111" stroke="#111" stroke-width="0.15">ϵ</text>
<text x="162.2" y="317.8" font-family='"Liberation Sans", sans-serif' font-size="6.4" font-weight="bold" fill="#111" stroke="#111" stroke-width="0.3">)</text>
<line x1="132.1" y1="329.55" x2="145.1" y2="329.55" stroke="#ff0000" stroke-width="2"/>
<circle cx="139" cy="329.55" r="2.05" fill="#ff0000"/>
<text transform="translate(146.8,331.75) scale(1.2,1)" font-family='"Liberation Sans", sans-serif' font-size="6.2" font-weight="bold" fill="#111" stroke="#111" stroke-width="0.3">u</text>
<text x="151.3" y="328.1" font-family='"Liberation Sans", sans-serif' font-size="5.9" font-weight="bold" fill="#111" stroke="#111" stroke-width="0.3">t</text>
<text x="151.9" y="335.45" font-family='"Liberation Sans", sans-serif' font-size="5.4" font-weight="bold" fill="#111" stroke="#111" stroke-width="0.3">2</text>
<text x="155.4" y="331.55" font-family='"Liberation Sans", sans-serif' font-size="6.4" font-weight="bold" fill="#111" stroke="#111" stroke-width="0.3">(</text>
<text x="158" y="331.75" font-family='"Liberation Serif", serif' font-size="6.6" font-style="italic" fill="#111" stroke="#111" stroke-width="0.15">ϵ</text>
<text x="162.2" y="331.55" font-family='"Liberation Sans", sans-serif' font-size="6.4" font-weight="bold" fill="#111" stroke="#111" stroke-width="0.3">)</text>
<line x1="132.1" y1="343.3" x2="145.1" y2="343.3" stroke="#0000ff" stroke-width="2"/>
<circle cx="139" cy="343.3" r="2.05" fill="#0000ff"/>
<text transform="translate(146.8,345.5) scale(1.2,1)" font-family='"Liberation Sans", sans-serif' font-size="6.2" font-weight="bold" fill="#111" stroke="#111" stroke-width="0.3">u</text>
<text x="151.3" y="341.85" font-family='"Liberation Sans", sans-serif' font-size="5.9" font-weight="bold" fill="#111" stroke="#111" stroke-width="0.3">t</text>
<text x="151.9" y="349.2" font-family='"Liberation Sans", sans-serif' font-size="5.4" font-weight="bold" fill="#111" stroke="#111" stroke-width="0.3">3</text>
<text x="155.4" y="345.3" font-family='"Liberation Sans", sans-serif' font-size="6.4" font-weight="bold" fill="#111" stroke="#111" stroke-width="0.3">(</text>
<text x="158" y="345.5" font-family='"Liberation Serif", serif' font-size="6.6" font-style="italic" fill="#111" stroke="#111" stroke-width="0.15">ϵ</text>
<text x="162.2" y="345.3" font-family='"Liberation Sans", sans-serif' font-size="6.4" font-weight="bold" fill="#111" stroke="#111" stroke-width="0.3">)</text>
<line x1="208.1" y1="278.5" x2="352.6" y2="278.5" stroke="#111" stroke-width="1" stroke-dasharray="2.9 3.7" stroke-dashoffset="-1.4"/>
<rect x="208.1" y="246.8" width="144.5" height="109.9" fill="none" stroke="#111" stroke-width="1.9"/>
<line x1="244" y1="246.8" x2="244" y2="248.8" stroke="#111" stroke-width="1.5"/>
<line x1="244" y1="356.7" x2="244" y2="354.7" stroke="#111" stroke-width="1.5"/>
<text transform="translate(244,367.2) scale(1.27,1)" font-family='"Liberation Sans", sans-serif' font-size="7.6" font-weight="bold" text-anchor="middle" fill="#1a1a1a" stroke="#1a1a1a" stroke-width="0.3">-1</text>
<line x1="280.3" y1="246.8" x2="280.3" y2="248.8" stroke="#111" stroke-width="1.5"/>
<line x1="280.3" y1="356.7" x2="280.3" y2="354.7" stroke="#111" stroke-width="1.5"/>
<text transform="translate(280.3,367.2) scale(1.27,1)" font-family='"Liberation Sans", sans-serif' font-size="7.6" font-weight="bold" text-anchor="middle" fill="#1a1a1a" stroke="#1a1a1a" stroke-width="0.3">0</text>
<line x1="316.6" y1="246.8" x2="316.6" y2="248.8" stroke="#111" stroke-width="1.5"/>
<line x1="316.6" y1="356.7" x2="316.6" y2="354.7" stroke="#111" stroke-width="1.5"/>
<text transform="translate(316.6,367.2) scale(1.27,1)" font-family='"Liberation Sans", sans-serif' font-size="7.6" font-weight="bold" text-anchor="middle" fill="#1a1a1a" stroke="#1a1a1a" stroke-width="0.3">1</text>
<line x1="208.1" y1="250.1" x2="210.1" y2="250.1" stroke="#111" stroke-width="1.5"/>
<line x1="352.6" y1="250.1" x2="350.6" y2="250.1" stroke="#111" stroke-width="1.5"/>
<text transform="translate(205.4,253) scale(1.27,1)" font-family='"Liberation Sans", sans-serif' font-size="7.6" font-weight="bold" text-anchor="end" fill="#1a1a1a" stroke="#1a1a1a" stroke-width="0.3">1</text>
<line x1="208.1" y1="278.6" x2="210.1" y2="278.6" stroke="#111" stroke-width="1.5"/>
<line x1="352.6" y1="278.6" x2="350.6" y2="278.6" stroke="#111" stroke-width="1.5"/>
<text transform="translate(205.4,281.5) scale(1.27,1)" font-family='"Liberation Sans", sans-serif' font-size="7.6" font-weight="bold" text-anchor="end" fill="#1a1a1a" stroke="#1a1a1a" stroke-width="0.3">0</text>
<line x1="208.1" y1="307.1" x2="210.1" y2="307.1" stroke="#111" stroke-width="1.5"/>
<line x1="352.6" y1="307.1" x2="350.6" y2="307.1" stroke="#111" stroke-width="1.5"/>
<text transform="translate(205.4,310) scale(1.27,1)" font-family='"Liberation Sans", sans-serif' font-size="7.6" font-weight="bold" text-anchor="end" fill="#1a1a1a" stroke="#1a1a1a" stroke-width="0.3">-1</text>
<line x1="208.1" y1="335.6" x2="210.1" y2="335.6" stroke="#111" stroke-width="1.5"/>
<line x1="352.6" y1="335.6" x2="350.6" y2="335.6" stroke="#111" stroke-width="1.5"/>
<text transform="translate(205.4,338.5) scale(1.27,1)" font-family='"Liberation Sans", sans-serif' font-size="7.6" font-weight="bold" text-anchor="end" fill="#1a1a1a" stroke="#1a1a1a" stroke-width="0.3">-2</text>
<line x1="208.1" y1="250.1" x2="352.6" y2="250.1" stroke="#00ff00" stroke-width="4.6" stroke-linecap="round"/>
<path d="M207.6,310.33 208.17,310.33 208.74,310.32 209.31,310.32 209.88,310.31 210.45,310.31 211.02,310.31 211.59,310.3 212.16,310.3 212.73,310.29 213.3,310.29 213.87,310.28 214.44,310.28 215.01,310.27 215.58,310.27 216.15,310.26 216.72,310.25 217.29,310.25 217.86,310.24 218.43,310.23 219,310.23 219.57,310.22 220.14,310.21 220.71,310.2 221.28,310.19 221.85,310.18 222.43,310.17 223,310.16 223.57,310.15 224.14,310.14 224.71,310.13 225.28,310.11 225.85,310.1 226.42,310.09 226.99,310.07 227.56,310.06 228.13,310.04 228.7,310.02 229.27,310.01 229.84,309.99 230.41,309.97 230.98,309.95 231.55,309.93 232.12,309.9 232.69,309.88 233.26,309.86 233.83,309.83 234.4,309.81 234.97,309.78 235.54,309.75 236.11,309.72 236.68,309.69 237.25,309.65 237.82,309.62 238.39,309.58 238.96,309.55 239.53,309.51 240.1,309.46 240.67,309.42 241.24,309.38 241.81,309.33 242.38,309.28 242.95,309.23 243.52,309.17 244.09,309.11 244.66,309.05 245.23,308.99 245.8,308.93 246.37,308.86 246.94,308.79 247.51,308.71 248.08,308.64 248.65,308.55 249.22,308.47 249.79,308.38 250.36,308.28 250.93,308.19 251.51,308.08 252.08,307.98 252.65,307.86 253.22,307.74 253.79,307.62 254.36,307.49 254.93,307.35 255.5,307.21 256.07,307.06 256.64,306.9 257.21,306.73 257.78,306.56 258.35,306.37 258.92,306.18 259.49,305.97 260.06,305.75 260.63,305.52 261.2,305.28 261.77,305.02 262.34,304.75 262.91,304.46 263.48,304.15 264.05,303.82 264.62,303.47 265.19,303.1 265.76,302.71 266.33,302.29 266.9,301.83 267.47,301.35 268.04,300.84 268.61,300.28 269.18,299.7 269.75,299.06 270.32,298.39 270.89,297.67 271.46,296.9 272.03,296.08 272.6,295.21 273.17,294.28 273.74,293.3 274.31,292.26 274.88,291.17 275.45,290.02 276.02,288.82 276.59,287.57 277.16,286.28 277.73,284.94 278.3,283.57 278.87,282.17 279.44,280.75 280.01,279.32 280.59,277.88 281.16,276.45 281.73,275.03 282.3,273.63 282.87,272.26 283.44,270.92 284.01,269.63 284.58,268.38 285.15,267.18 285.72,266.03 286.29,264.94 286.86,263.9 287.43,262.92 288,261.99 288.57,261.12 289.14,260.3 289.71,259.53 290.28,258.81 290.85,258.14 291.42,257.5 291.99,256.92 292.56,256.36 293.13,255.85 293.7,255.37 294.27,254.91 294.84,254.49 295.41,254.1 295.98,253.73 296.55,253.38 297.12,253.05 297.69,252.74 298.26,252.45 298.83,252.18 299.4,251.92 299.97,251.68 300.54,251.45 301.11,251.23 301.68,251.02 302.25,250.83 302.82,250.64 303.39,250.47 303.96,250.3 304.53,250.14 305.1,249.99 305.67,249.85 306.24,249.71 306.81,249.58 307.38,249.46 307.95,249.34 308.52,249.22 309.09,249.12 309.67,249.01 310.24,248.92 310.81,248.82 311.38,248.73 311.95,248.65 312.52,248.56 313.09,248.49 313.66,248.41 314.23,248.34 314.8,248.27 315.37,248.21 315.94,248.15 316.51,248.09 317.08,248.03 317.65,247.97 318.22,247.92 318.79,247.87 319.36,247.82 319.93,247.78 320.5,247.74 321.07,247.69 321.64,247.65 322.21,247.62 322.78,247.58 323.35,247.55 323.92,247.51 324.49,247.48 325.06,247.45 325.63,247.42 326.2,247.39 326.77,247.37 327.34,247.34 327.91,247.32 328.48,247.3 329.05,247.27 329.62,247.25 330.19,247.23 330.76,247.21 331.33,247.19 331.9,247.18 332.47,247.16 333.04,247.14 333.61,247.13 334.18,247.11 334.75,247.1 335.32,247.09 335.89,247.07 336.46,247.06 337.03,247.05 337.6,247.04 338.17,247.03 338.75,247.02 339.32,247.01 339.89,247 340.46,246.99 341.03,246.98 341.6,246.97 342.17,246.97 342.74,246.96 343.31,246.95 343.88,246.95 344.45,246.94 345.02,246.93 345.59,246.93 346.16,246.92 346.73,246.92 347.3,246.91 347.87,246.91 348.44,246.9 349.01,246.9 349.58,246.89 350.15,246.89 350.72,246.89 351.29,246.88 351.86,246.88 352.43,246.87 353,246.87" fill="none" stroke="#ff0000" stroke-width="3.0" stroke-linejoin="round" marker-start="url(#mr)" marker-mid="url(#mr)" marker-end="url(#mr)"/>
<path d="M207.2,258.1 207.77,258.1 208.35,258.1 208.92,258.11 209.49,258.12 210.07,258.12 210.64,258.13 211.21,258.14 211.79,258.16 212.36,258.17 212.93,258.19 213.51,258.2 214.08,258.22 214.65,258.24 215.23,258.26 215.8,258.28 216.37,258.3 216.95,258.32 217.52,258.35 218.09,258.39 218.67,258.44 219.24,258.49 219.81,258.55 220.39,258.62 220.96,258.69 221.53,258.76 222.11,258.84 222.68,258.92 223.25,259.01 223.83,259.09 224.4,259.18 224.97,259.27 225.55,259.36 226.12,259.44 226.69,259.53 227.27,259.62 227.84,259.71 228.41,259.81 228.99,259.91 229.56,260.01 230.13,260.12 230.71,260.23 231.28,260.34 231.85,260.46 232.43,260.58 233,260.7 233.57,260.83 234.15,260.97 234.72,261.11 235.29,261.25 235.87,261.4 236.44,261.55 237.01,261.71 237.59,261.87 238.16,262.04 238.73,262.22 239.31,262.41 239.88,262.6 240.45,262.8 241.03,263.01 241.6,263.23 242.17,263.45 242.75,263.69 243.32,263.93 243.89,264.19 244.47,264.46 245.04,264.75 245.61,265.06 246.19,265.39 246.76,265.74 247.33,266.11 247.91,266.5 248.48,266.91 249.05,267.35 249.63,267.8 250.2,268.32 250.77,268.91 251.35,269.54 251.92,270.22 252.49,270.92 253.07,271.64 253.64,272.35 254.21,273.06 254.79,273.73 255.36,274.37 255.93,275.01 256.51,275.69 257.08,276.43 257.65,277.29 258.23,278.34 258.8,279.57 259.37,280.91 259.95,282.27 260.52,283.65 261.09,285.1 261.67,286.59 262.24,288.11 262.81,289.64 263.39,291.16 263.96,292.69 264.53,294.27 265.11,295.92 265.68,297.67 266.25,299.55 266.83,301.52 267.4,303.56 267.97,305.66 268.55,307.84 269.12,310.08 269.69,312.41 270.27,314.81 270.84,317.27 271.41,319.75 271.99,322.21 272.56,324.82 273.13,327.77 273.71,331.12 274.28,334.59 274.85,338.04 275.43,341.62 276,344.97 276.57,347.85 277.15,350.52 277.72,352.68 278.29,354.16 278.87,355.3 279.44,356.06 280.01,356.61 280.59,356.61 281.16,356.06 281.73,355.3 282.31,354.16 282.88,352.68 283.45,350.52 284.03,347.85 284.6,344.97 285.17,341.62 285.75,338.04 286.32,334.59 286.89,331.12 287.47,327.77 288.04,324.82 288.61,322.21 289.19,319.75 289.76,317.27 290.33,314.81 290.91,312.41 291.48,310.08 292.05,307.84 292.63,305.66 293.2,303.56 293.77,301.52 294.35,299.55 294.92,297.67 295.49,295.92 296.07,294.27 296.64,292.69 297.21,291.16 297.79,289.64 298.36,288.11 298.93,286.59 299.51,285.1 300.08,283.65 300.65,282.27 301.23,280.91 301.8,279.57 302.37,278.34 302.95,277.29 303.52,276.43 304.09,275.69 304.67,275.01 305.24,274.37 305.81,273.73 306.39,273.06 306.96,272.35 307.53,271.64 308.11,270.92 308.68,270.22 309.25,269.54 309.83,268.91 310.4,268.32 310.97,267.8 311.55,267.35 312.12,266.91 312.69,266.5 313.27,266.11 313.84,265.74 314.41,265.39 314.99,265.06 315.56,264.75 316.13,264.46 316.71,264.19 317.28,263.93 317.85,263.69 318.43,263.45 319,263.23 319.57,263.01 320.15,262.8 320.72,262.6 321.29,262.41 321.87,262.22 322.44,262.04 323.01,261.87 323.59,261.71 324.16,261.55 324.73,261.4 325.31,261.25 325.88,261.11 326.45,260.97 327.03,260.83 327.6,260.7 328.17,260.58 328.75,260.46 329.32,260.34 329.89,260.23 330.47,260.12 331.04,260.01 331.61,259.91 332.19,259.81 332.76,259.71 333.33,259.62 333.91,259.53 334.48,259.44 335.05,259.36 335.63,259.27 336.2,259.18 336.77,259.09 337.35,259.01 337.92,258.92 338.49,258.84 339.07,258.76 339.64,258.69 340.21,258.62 340.79,258.55 341.36,258.49 341.93,258.44 342.51,258.39 343.08,258.35 343.65,258.32 344.23,258.3 344.8,258.28 345.37,258.26 345.95,258.24 346.52,258.22 347.09,258.2 347.67,258.19 348.24,258.17 348.81,258.16 349.39,258.14 349.96,258.13 350.53,258.12 351.11,258.12 351.68,258.11 352.25,258.1 352.83,258.1 353.4,258.1" fill="none" stroke="#0000ff" stroke-width="3.0" stroke-linejoin="round" marker-start="url(#mb)" marker-mid="url(#mb)" marker-end="url(#mb)"/>
<rect x="310.8" y="308.6" width="36.2" height="42.7" fill="#fff" stroke="#111" stroke-width="1.7"/>
<line x1="311.8" y1="315.8" x2="324.8" y2="315.8" stroke="#00ff00" stroke-width="2"/>
<circle cx="318.7" cy="315.8" r="2.05" fill="#00ff00"/>
<text transform="translate(326.5,318) scale(1.2,1)" font-family='"Liberation Sans", sans-serif' font-size="6.2" font-weight="bold" fill="#111" stroke="#111" stroke-width="0.3">u</text>
<text x="331" y="314.35" font-family='"Liberation Sans", sans-serif' font-size="5.9" font-weight="bold" fill="#111" stroke="#111" stroke-width="0.3">t</text>
<text x="331.6" y="321.7" font-family='"Liberation Sans", sans-serif' font-size="5.4" font-weight="bold" fill="#111" stroke="#111" stroke-width="0.3">1</text>
<text x="335.1" y="317.8" font-family='"Liberation Sans", sans-serif' font-size="6.4" font-weight="bold" fill="#111" stroke="#111" stroke-width="0.3">(</text>
<text x="337.7" y="318" font-family='"Liberation Serif", serif' font-size="6.6" font-style="italic" fill="#111" stroke="#111" stroke-width="0.15">ϵ</text>
<text x="341.9" y="317.8" font-family='"Liberation Sans", sans-serif' font-size="6.4" font-weight="bold" fill="#111" stroke="#111" stroke-width="0.3">)</text>
<line x1="311.8" y1="329.55" x2="324.8" y2="329.55" stroke="#ff0000" stroke-width="2"/>
<circle cx="318.7" cy="329.55" r="2.05" fill="#ff0000"/>
<text transform="translate(326.5,331.75) scale(1.2,1)" font-family='"Liberation Sans", sans-serif' font-size="6.2" font-weight="bold" fill="#111" stroke="#111" stroke-width="0.3">u</text>
<text x="331" y="328.1" font-family='"Liberation Sans", sans-serif' font-size="5.9" font-weight="bold" fill="#111" stroke="#111" stroke-width="0.3">t</text>
<text x="331.6" y="335.45" font-family='"Liberation Sans", sans-serif' font-size="5.4" font-weight="bold" fill="#111" stroke="#111" stroke-width="0.3">2</text>
<text x="335.1" y="331.55" font-family='"Liberation Sans", sans-serif' font-size="6.4" font-weight="bold" fill="#111" stroke="#111" stroke-width="0.3">(</text>
<text x="337.7" y="331.75" font-family='"Liberation Serif", serif' font-size="6.6" font-style="italic" fill="#111" stroke="#111" stroke-width="0.15">ϵ</text>
<text x="341.9" y="331.55" font-family='"Liberation Sans", sans-serif' font-size="6.4" font-weight="bold" fill="#111" stroke="#111" stroke-width="0.3">)</text>
<line x1="311.8" y1="343.3" x2="324.8" y2="343.3" stroke="#0000ff" stroke-width="2"/>
<circle cx="318.7" cy="343.3" r="2.05" fill="#0000ff"/>
<text transform="translate(326.5,345.5) scale(1.2,1)" font-family='"Liberation Sans", sans-serif' font-size="6.2" font-weight="bold" fill="#111" stroke="#111" stroke-width="0.3">u</text>
<text x="331" y="341.85" font-family='"Liberation Sans", sans-serif' font-size="5.9" font-weight="bold" fill="#111" stroke="#111" stroke-width="0.3">t</text>
<text x="331.6" y="349.2" font-family='"Liberation Sans", sans-serif' font-size="5.4" font-weight="bold" fill="#111" stroke="#111" stroke-width="0.3">3</text>
<text x="335.1" y="345.3" font-family='"Liberation Sans", sans-serif' font-size="6.4" font-weight="bold" fill="#111" stroke="#111" stroke-width="0.3">(</text>
<text x="337.7" y="345.5" font-family='"Liberation Serif", serif' font-size="6.6" font-style="italic" fill="#111" stroke="#111" stroke-width="0.15">ϵ</text>
<text x="341.9" y="345.3" font-family='"Liberation Sans", sans-serif' font-size="6.4" font-weight="bold" fill="#111" stroke="#111" stroke-width="0.3">)</text>
<line x1="387.6" y1="273.5" x2="532.3" y2="273.5" stroke="#111" stroke-width="1" stroke-dasharray="2.9 3.7" stroke-dashoffset="-1.4"/>
<rect x="387.6" y="246.8" width="144.7" height="110" fill="none" stroke="#111" stroke-width="1.9"/>
<line x1="423.6" y1="246.8" x2="423.6" y2="248.8" stroke="#111" stroke-width="1.5"/>
<line x1="423.6" y1="356.8" x2="423.6" y2="354.8" stroke="#111" stroke-width="1.5"/>
<text transform="translate(423.6,367.3) scale(1.27,1)" font-family='"Liberation Sans", sans-serif' font-size="7.6" font-weight="bold" text-anchor="middle" fill="#1a1a1a" stroke="#1a1a1a" stroke-width="0.3">-1</text>
<line x1="459.9" y1="246.8" x2="459.9" y2="248.8" stroke="#111" stroke-width="1.5"/>
<line x1="459.9" y1="356.8" x2="459.9" y2="354.8" stroke="#111" stroke-width="1.5"/>
<text transform="translate(459.9,367.3) scale(1.27,1)" font-family='"Liberation Sans", sans-serif' font-size="7.6" font-weight="bold" text-anchor="middle" fill="#1a1a1a" stroke="#1a1a1a" stroke-width="0.3">0</text>
<line x1="496.2" y1="246.8" x2="496.2" y2="248.8" stroke="#111" stroke-width="1.5"/>
<line x1="496.2" y1="356.8" x2="496.2" y2="354.8" stroke="#111" stroke-width="1.5"/>
<text transform="translate(496.2,367.3) scale(1.27,1)" font-family='"Liberation Sans", sans-serif' font-size="7.6" font-weight="bold" text-anchor="middle" fill="#1a1a1a" stroke="#1a1a1a" stroke-width="0.3">1</text>
<line x1="387.6" y1="248.7" x2="389.6" y2="248.7" stroke="#111" stroke-width="1.5"/>
<line x1="532.3" y1="248.7" x2="530.3" y2="248.7" stroke="#111" stroke-width="1.5"/>
<text transform="translate(384.9,251.6) scale(1.27,1)" font-family='"Liberation Sans", sans-serif' font-size="7.6" font-weight="bold" text-anchor="end" fill="#1a1a1a" stroke="#1a1a1a" stroke-width="0.3">1</text>
<line x1="387.6" y1="273.4" x2="389.6" y2="273.4" stroke="#111" stroke-width="1.5"/>
<line x1="532.3" y1="273.4" x2="530.3" y2="273.4" stroke="#111" stroke-width="1.5"/>
<text transform="translate(384.9,276.3) scale(1.27,1)" font-family='"Liberation Sans", sans-serif' font-size="7.6" font-weight="bold" text-anchor="end" fill="#1a1a1a" stroke="#1a1a1a" stroke-width="0.3">0</text>
<line x1="387.6" y1="298.1" x2="389.6" y2="298.1" stroke="#111" stroke-width="1.5"/>
<line x1="532.3" y1="298.1" x2="530.3" y2="298.1" stroke="#111" stroke-width="1.5"/>
<text transform="translate(384.9,301) scale(1.27,1)" font-family='"Liberation Sans", sans-serif' font-size="7.6" font-weight="bold" text-anchor="end" fill="#1a1a1a" stroke="#1a1a1a" stroke-width="0.3">-1</text>
<line x1="387.6" y1="322.8" x2="389.6" y2="322.8" stroke="#111" stroke-width="1.5"/>
<line x1="532.3" y1="322.8" x2="530.3" y2="322.8" stroke="#111" stroke-width="1.5"/>
<text transform="translate(384.9,325.7) scale(1.27,1)" font-family='"Liberation Sans", sans-serif' font-size="7.6" font-weight="bold" text-anchor="end" fill="#1a1a1a" stroke="#1a1a1a" stroke-width="0.3">-2</text>
<line x1="387.6" y1="347.5" x2="389.6" y2="347.5" stroke="#111" stroke-width="1.5"/>
<line x1="532.3" y1="347.5" x2="530.3" y2="347.5" stroke="#111" stroke-width="1.5"/>
<text transform="translate(384.9,350.4) scale(1.27,1)" font-family='"Liberation Sans", sans-serif' font-size="7.6" font-weight="bold" text-anchor="end" fill="#1a1a1a" stroke="#1a1a1a" stroke-width="0.3">-3</text>
<line x1="387.6" y1="248.7" x2="532.3" y2="248.7" stroke="#00ff00" stroke-width="4.6" stroke-linecap="round"/>
<path d="M387.4,299.22 388.53,299.22 389.67,299.22 390.8,299.22 391.93,299.22 393.06,299.21 394.2,299.21 395.33,299.21 396.46,299.2 397.6,299.2 398.73,299.19 399.86,299.19 400.99,299.18 402.13,299.18 403.26,299.17 404.39,299.17 405.52,299.16 406.66,299.15 407.79,299.14 408.92,299.13 410.06,299.12 411.19,299.11 412.32,299.09 413.45,299.08 414.59,299.06 415.72,299.04 416.85,299.03 417.99,299 419.12,298.98 420.25,298.96 421.38,298.93 422.52,298.9 423.65,298.87 424.78,298.83 425.92,298.79 427.05,298.75 428.18,298.7 429.31,298.64 430.45,298.59 431.58,298.52 432.71,298.45 433.85,298.37 434.98,298.28 436.11,298.18 437.24,298.06 438.38,297.93 439.51,297.77 440.64,297.59 441.77,297.38 442.91,297.13 444.04,296.82 445.17,296.45 446.31,295.99 447.44,295.43 448.57,294.73 449.7,293.86 450.84,292.78 451.97,291.45 453.1,289.83 454.24,287.87 455.37,285.57 456.5,282.91 457.63,279.94 458.77,276.74 459.9,273.4 461.03,270.06 462.17,266.86 463.3,263.89 464.43,261.23 465.56,258.93 466.7,256.97 467.83,255.35 468.96,254.02 470.1,252.94 471.23,252.07 472.36,251.37 473.49,250.81 474.63,250.35 475.76,249.98 476.89,249.67 478.02,249.42 479.16,249.21 480.29,249.03 481.42,248.87 482.56,248.74 483.69,248.62 484.82,248.52 485.95,248.43 487.09,248.35 488.22,248.28 489.35,248.21 490.49,248.16 491.62,248.1 492.75,248.05 493.88,248.01 495.02,247.97 496.15,247.93 497.28,247.9 498.42,247.87 499.55,247.84 500.68,247.82 501.81,247.8 502.95,247.77 504.08,247.76 505.21,247.74 506.35,247.72 507.48,247.71 508.61,247.69 509.74,247.68 510.88,247.67 512.01,247.66 513.14,247.65 514.27,247.64 515.41,247.63 516.54,247.63 517.67,247.62 518.81,247.62 519.94,247.61 521.07,247.61 522.2,247.6 523.34,247.6 524.47,247.59 525.6,247.59 526.74,247.59 527.87,247.58 529,247.58 530.13,247.58 531.27,247.58 532.4,247.58" fill="none" stroke="#ff0000" stroke-width="3.0" stroke-linejoin="round" marker-start="url(#mr)" marker-mid="url(#mr)" marker-end="url(#mr)"/>
<path d="M387.2,259.9 388.34,259.93 389.47,259.95 390.61,259.98 391.74,260.01 392.88,260.04 394.02,260.07 395.15,260.11 396.29,260.15 397.42,260.19 398.56,260.23 399.7,260.28 400.83,260.33 401.97,260.38 403.1,260.44 404.24,260.5 405.38,260.56 406.51,260.63 407.65,260.7 408.78,260.77 409.92,260.85 411.05,260.94 412.19,261.03 413.33,261.13 414.46,261.23 415.6,261.34 416.73,261.45 417.87,261.58 419.01,261.71 420.14,261.85 421.28,262 422.41,262.16 423.55,262.33 424.69,262.52 425.82,262.72 426.96,262.94 428.09,263.19 429.23,263.46 430.37,263.76 431.5,264.1 432.64,264.48 433.77,264.93 434.91,265.45 436.05,266.05 437.18,266.77 438.32,267.62 439.45,268.65 440.59,269.88 441.72,271.38 442.86,273.19 444,275.39 445.13,278.05 446.27,281.24 447.4,285.06 448.54,289.56 449.68,294.78 450.81,300.73 451.95,307.32 453.08,314.39 454.22,321.68 455.36,328.87 456.49,335.81 457.63,343.01 458.76,351.46 459.9,356.76 461.04,351.46 462.17,343.01 463.31,335.81 464.44,328.87 465.58,321.68 466.72,314.39 467.85,307.32 468.99,300.73 470.12,294.78 471.26,289.56 472.4,285.06 473.53,281.24 474.67,278.05 475.8,275.39 476.94,273.19 478.07,271.38 479.21,269.88 480.35,268.65 481.48,267.62 482.62,266.77 483.75,266.05 484.89,265.45 486.03,264.93 487.16,264.48 488.3,264.1 489.43,263.76 490.57,263.46 491.71,263.19 492.84,262.94 493.98,262.72 495.11,262.52 496.25,262.33 497.39,262.16 498.52,262 499.66,261.85 500.79,261.71 501.93,261.58 503.07,261.45 504.2,261.34 505.34,261.23 506.47,261.13 507.61,261.03 508.75,260.94 509.88,260.85 511.02,260.77 512.15,260.7 513.29,260.63 514.42,260.56 515.56,260.5 516.7,260.44 517.83,260.38 518.97,260.33 520.1,260.28 521.24,260.23 522.38,260.19 523.51,260.15 524.65,260.11 525.78,260.07 526.92,260.04 528.06,260.01 529.19,259.98 530.33,259.95 531.46,259.93 532.6,259.9" fill="none" stroke="#0000ff" stroke-width="3.0" stroke-linejoin="round" marker-start="url(#mb)" marker-mid="url(#mb)" marker-end="url(#mb)"/>
<rect x="490.2" y="308.7" width="36.1" height="42.6" fill="#fff" stroke="#111" stroke-width="1.7"/>
<line x1="491.2" y1="315.9" x2="504.2" y2="315.9" stroke="#00ff00" stroke-width="2"/>
<circle cx="498.1" cy="315.9" r="2.05" fill="#00ff00"/>
<text transform="translate(505.9,318.1) scale(1.2,1)" font-family='"Liberation Sans", sans-serif' font-size="6.2" font-weight="bold" fill="#111" stroke="#111" stroke-width="0.3">u</text>
<text x="510.4" y="314.45" font-family='"Liberation Sans", sans-serif' font-size="5.9" font-weight="bold" fill="#111" stroke="#111" stroke-width="0.3">t</text>
<text x="511" y="321.8" font-family='"Liberation Sans", sans-serif' font-size="5.4" font-weight="bold" fill="#111" stroke="#111" stroke-width="0.3">1</text>
<text x="514.5" y="317.9" font-family='"Liberation Sans", sans-serif' font-size="6.4" font-weight="bold" fill="#111" stroke="#111" stroke-width="0.3">(</text>
<text x="517.1" y="318.1" font-family='"Liberation Serif", serif' font-size="6.6" font-style="italic" fill="#111" stroke="#111" stroke-width="0.15">ϵ</text>
<text x="521.3" y="317.9" font-family='"Liberation Sans", sans-serif' font-size="6.4" font-weight="bold" fill="#111" stroke="#111" stroke-width="0.3">)</text>
<line x1="491.2" y1="329.65" x2="504.2" y2="329.65" stroke="#ff0000" stroke-width="2"/>
<circle cx="498.1" cy="329.65" r="2.05" fill="#ff0000"/>
<text transform="translate(505.9,331.85) scale(1.2,1)" font-family='"Liberation Sans", sans-serif' font-size="6.2" font-weight="bold" fill="#111" stroke="#111" stroke-width="0.3">u</text>
<text x="510.4" y="328.2" font-family='"Liberation Sans", sans-serif' font-size="5.9" font-weight="bold" fill="#111" stroke="#111" stroke-width="0.3">t</text>
<text x="511" y="335.55" font-family='"Liberation Sans", sans-serif' font-size="5.4" font-weight="bold" fill="#111" stroke="#111" stroke-width="0.3">2</text>
<text x="514.5" y="331.65" font-family='"Liberation Sans", sans-serif' font-size="6.4" font-weight="bold" fill="#111" stroke="#111" stroke-width="0.3">(</text>
<text x="517.1" y="331.85" font-family='"Liberation Serif", serif' font-size="6.6" font-style="italic" fill="#111" stroke="#111" stroke-width="0.15">ϵ</text>
<text x="521.3" y="331.65" font-family='"Liberation Sans", sans-serif' font-size="6.4" font-weight="bold" fill="#111" stroke="#111" stroke-width="0.3">)</text>
<line x1="491.2" y1="343.4" x2="504.2" y2="343.4" stroke="#0000ff" stroke-width="2"/>
<circle cx="498.1" cy="343.4" r="2.05" fill="#0000ff"/>
<text transform="translate(505.9,345.6) scale(1.2,1)" font-family='"Liberation Sans", sans-serif' font-size="6.2" font-weight="bold" fill="#111" stroke="#111" stroke-width="0.3">u</text>
<text x="510.4" y="341.95" font-family='"Liberation Sans", sans-serif' font-size="5.9" font-weight="bold" fill="#111" stroke="#111" stroke-width="0.3">t</text>
<text x="511" y="349.3" font-family='"Liberation Sans", sans-serif' font-size="5.4" font-weight="bold" fill="#111" stroke="#111" stroke-width="0.3">3</text>
<text x="514.5" y="345.4" font-family='"Liberation Sans", sans-serif' font-size="6.4" font-weight="bold" fill="#111" stroke="#111" stroke-width="0.3">(</text>
<text x="517.1" y="345.6" font-family='"Liberation Serif", serif' font-size="6.6" font-style="italic" fill="#111" stroke="#111" stroke-width="0.15">ϵ</text>
<text x="521.3" y="345.4" font-family='"Liberation Sans", sans-serif' font-size="6.4" font-weight="bold" fill="#111" stroke="#111" stroke-width="0.3">)</text>
<line x1="24.3" y1="456.5" x2="169" y2="456.5" stroke="#111" stroke-width="1" stroke-dasharray="2.9 3.7" stroke-dashoffset="-1.4"/>
<rect x="24.3" y="397.1" width="144.7" height="110.3" fill="none" stroke="#111" stroke-width="1.9"/>
<line x1="58.5" y1="397.1" x2="58.5" y2="399.1" stroke="#111" stroke-width="1.5"/>
<line x1="58.5" y1="507.4" x2="58.5" y2="505.4" stroke="#111" stroke-width="1.5"/>
<text transform="translate(58.5,517.9) scale(1.27,1)" font-family='"Liberation Sans", sans-serif' font-size="7.6" font-weight="bold" text-anchor="middle" fill="#1a1a1a" stroke="#1a1a1a" stroke-width="0.3">-0.5</text>
<line x1="96.75" y1="397.1" x2="96.75" y2="399.1" stroke="#111" stroke-width="1.5"/>
<line x1="96.75" y1="507.4" x2="96.75" y2="505.4" stroke="#111" stroke-width="1.5"/>
<text transform="translate(96.75,517.9) scale(1.27,1)" font-family='"Liberation Sans", sans-serif' font-size="7.6" font-weight="bold" text-anchor="middle" fill="#1a1a1a" stroke="#1a1a1a" stroke-width="0.3">0</text>
<line x1="135" y1="397.1" x2="135" y2="399.1" stroke="#111" stroke-width="1.5"/>
<line x1="135" y1="507.4" x2="135" y2="505.4" stroke="#111" stroke-width="1.5"/>
<text transform="translate(135,517.9) scale(1.27,1)" font-family='"Liberation Sans", sans-serif' font-size="7.6" font-weight="bold" text-anchor="middle" fill="#1a1a1a" stroke="#1a1a1a" stroke-width="0.3">0.5</text>
<line x1="24.3" y1="410.9" x2="26.3" y2="410.9" stroke="#111" stroke-width="1.5"/>
<line x1="169" y1="410.9" x2="167" y2="410.9" stroke="#111" stroke-width="1.5"/>
<text transform="translate(21.6,413.8) scale(1.27,1)" font-family='"Liberation Sans", sans-serif' font-size="7.6" font-weight="bold" text-anchor="end" fill="#1a1a1a" stroke="#1a1a1a" stroke-width="0.3">2</text>
<line x1="24.3" y1="433.9" x2="26.3" y2="433.9" stroke="#111" stroke-width="1.5"/>
<line x1="169" y1="433.9" x2="167" y2="433.9" stroke="#111" stroke-width="1.5"/>
<text transform="translate(21.6,436.8) scale(1.27,1)" font-family='"Liberation Sans", sans-serif' font-size="7.6" font-weight="bold" text-anchor="end" fill="#1a1a1a" stroke="#1a1a1a" stroke-width="0.3">1</text>
<line x1="24.3" y1="456.9" x2="26.3" y2="456.9" stroke="#111" stroke-width="1.5"/>
<line x1="169" y1="456.9" x2="167" y2="456.9" stroke="#111" stroke-width="1.5"/>
<text transform="translate(21.6,459.8) scale(1.27,1)" font-family='"Liberation Sans", sans-serif' font-size="7.6" font-weight="bold" text-anchor="end" fill="#1a1a1a" stroke="#1a1a1a" stroke-width="0.3">0</text>
<line x1="24.3" y1="479.9" x2="26.3" y2="479.9" stroke="#111" stroke-width="1.5"/>
<line x1="169" y1="479.9" x2="167" y2="479.9" stroke="#111" stroke-width="1.5"/>
<text transform="translate(21.6,482.8) scale(1.27,1)" font-family='"Liberation Sans", sans-serif' font-size="7.6" font-weight="bold" text-anchor="end" fill="#1a1a1a" stroke="#1a1a1a" stroke-width="0.3">-1</text>
<line x1="24.3" y1="502.9" x2="26.3" y2="502.9" stroke="#111" stroke-width="1.5"/>
<line x1="169" y1="502.9" x2="167" y2="502.9" stroke="#111" stroke-width="1.5"/>
<text transform="translate(21.6,505.8) scale(1.27,1)" font-family='"Liberation Sans", sans-serif' font-size="7.6" font-weight="bold" text-anchor="end" fill="#1a1a1a" stroke="#1a1a1a" stroke-width="0.3">-2</text>
<line x1="24.3" y1="433.9" x2="169" y2="433.9" stroke="#00ff00" stroke-width="4.6" stroke-linecap="round"/>
<path d="M23.4,488.2 24.31,488.07 25.22,487.94 26.14,487.81 27.05,487.68 27.96,487.55 28.87,487.42 29.78,487.29 30.7,487.16 31.61,487.03 32.52,486.9 33.43,486.77 34.34,486.64 35.25,486.51 36.17,486.37 37.08,486.18 37.99,486 38.9,485.82 39.81,485.63 40.73,485.45 41.64,485.26 42.55,485.08 43.46,484.9 44.37,484.71 45.28,484.53 46.2,484.35 47.11,484.16 48.02,483.98 48.93,483.79 49.84,483.61 50.76,483.39 51.67,483.16 52.58,482.93 53.49,482.7 54.4,482.47 55.32,482.25 56.23,482.02 57.14,481.79 58.05,481.56 58.96,481.33 59.88,481.11 60.79,480.88 61.7,480.65 62.61,480.42 63.52,480.19 64.43,479.97 65.35,479.75 66.26,479.53 67.17,479.31 68.08,479.08 68.99,478.86 69.91,478.64 70.82,478.42 71.73,478.2 72.64,477.98 73.55,477.76 74.47,477.53 75.38,477.31 76.29,477.09 77.2,476.87 78.11,476.64 79.02,476.39 79.94,476.14 80.85,475.9 81.76,475.65 82.67,475.4 83.58,475.15 84.5,474.9 85.41,474.65 86.32,473.86 87.23,472.91 88.14,471.97 89.06,470.78 89.97,469.44 90.88,468.1 91.79,466.75 92.7,465.41 93.61,464.07 94.53,462.55 95.44,460.91 96.35,459.27 97.26,457.63 98.17,455.99 99.09,454.35 100,452.7 100.91,451.06 101.82,449.48 102.73,447.9 103.65,446.32 104.56,444.75 105.47,443.17 106.38,441.59 107.29,440.01 108.2,439.65 109.12,439.29 110.03,438.94 110.94,438.58 111.85,438.23 112.76,437.87 113.68,437.52 114.59,437.16 115.5,436.88 116.41,436.65 117.32,436.43 118.23,436.21 119.15,435.99 120.06,435.76 120.97,435.54 121.88,435.32 122.79,435.09 123.71,434.87 124.62,434.65 125.53,434.42 126.44,434.2 127.35,433.98 128.27,433.76 129.18,433.54 130.09,433.33 131,433.12 131.91,432.91 132.82,432.7 133.74,432.49 134.65,432.29 135.56,432.08 136.47,431.87 137.38,431.66 138.3,431.45 139.21,431.24 140.12,431.04 141.03,430.83 141.94,430.62 142.86,430.41 143.77,430.23 144.68,430.04 145.59,429.86 146.5,429.68 147.41,429.5 148.33,429.31 149.24,429.13 150.15,428.95 151.06,428.77 151.97,428.59 152.89,428.4 153.8,428.22 154.71,428.04 155.62,427.86 156.53,427.67 157.45,427.52 158.36,427.39 159.27,427.26 160.18,427.12 161.09,426.99 162,426.86 162.92,426.73 163.83,426.59 164.74,426.46 165.65,426.33 166.56,426.2 167.48,426.06 168.39,425.93 169.3,425.8" fill="none" stroke="#ff0000" stroke-width="3.0" stroke-linejoin="round" marker-start="url(#mr)" marker-mid="url(#mr)" marker-end="url(#mr)"/>
<path d="M24.4,397.1 25.3,398.75 26.21,400.5 27.11,402.36 28.01,404.32 28.92,406.47 29.82,408.7 30.73,410.92 31.63,413.03 32.53,415.1 33.44,417.11 34.34,419.03 35.24,420.9 36.15,422.64 37.05,424.16 37.96,425.47 38.86,426.68 39.76,427.89 40.67,429.19 41.57,430.55 42.47,431.94 43.38,433.32 44.28,434.63 45.19,435.9 46.09,437.15 46.99,438.37 47.9,439.54 48.8,440.64 49.7,441.65 50.61,442.55 51.51,443.39 52.42,444.26 53.32,445.21 54.22,446.35 55.13,447.68 56.03,449.01 56.93,450.21 57.84,451.11 58.74,451.78 59.65,452.35 60.55,452.89 61.45,453.46 62.36,454.11 63.26,454.8 64.16,455.53 65.07,456.3 65.97,457.15 66.88,458.13 67.78,459.09 68.68,459.91 69.59,460.56 70.49,461.16 71.39,461.7 72.3,462.18 73.2,462.6 74.11,462.95 75.01,463.22 75.91,463.44 76.82,463.66 77.72,463.9 78.62,464.21 79.53,464.67 80.43,465.18 81.34,465.51 82.24,465.75 83.14,466.07 84.05,466.88 84.95,468.39 85.85,470.2 86.76,473.55 87.66,479.95 88.57,485.93 89.47,491.34 90.37,495.71 91.28,498.95 92.18,501.3 93.09,503.05 93.99,504.44 94.89,505.54 95.8,506.55 96.7,507.09 97.6,506.82 98.51,506.01 99.41,504.9 100.31,502.87 101.22,500.18 102.12,496.66 103.03,492.78 103.93,488.34 104.83,482.97 105.74,476.2 106.64,471.98 107.54,469.57 108.45,468.27 109.35,467.61 110.26,467.11 111.16,466.73 112.06,466.38 112.97,466.01 113.87,465.65 114.78,465.33 115.68,465.03 116.58,464.7 117.49,464.29 118.39,463.71 119.29,462.78 120.2,461.78 121.1,461.02 122,460.35 122.91,459.73 123.81,459.13 124.72,458.52 125.62,457.93 126.52,457.35 127.43,456.77 128.33,456.18 129.23,455.58 130.14,454.99 131.04,454.42 131.95,453.85 132.85,453.26 133.75,452.63 134.66,451.95 135.56,451.2 136.47,450.34 137.37,449.28 138.27,448.09 139.18,446.84 140.08,445.61 140.98,444.48 141.89,443.51 142.79,442.67 143.69,441.93 144.6,441.23 145.5,440.52 146.41,439.77 147.31,438.93 148.21,437.95 149.12,436.72 150.02,435.14 150.92,433.41 151.83,431.7 152.73,429.92 153.64,428.09 154.54,426.24 155.44,424.41 156.35,422.62 157.25,420.84 158.16,419.06 159.06,417.27 159.96,415.48 160.87,413.68 161.77,411.88 162.67,410.07 163.58,408.25 164.48,406.42 165.38,404.58 166.29,402.72 167.19,400.86 168.1,398.98 169,397.1" fill="none" stroke="#0000ff" stroke-width="3.0" stroke-linejoin="round" marker-start="url(#mb)" marker-mid="url(#mb)" marker-end="url(#mb)"/>
<rect x="127.2" y="459.2" width="35.9" height="42.4" fill="#fff" stroke="#111" stroke-width="1.7"/>
<line x1="128.2" y1="466.4" x2="141.2" y2="466.4" stroke="#00ff00" stroke-width="2"/>
<circle cx="135.1" cy="466.4" r="2.05" fill="#00ff00"/>
<text transform="translate(142.9,468.6) scale(1.2,1)" font-family='"Liberation Sans", sans-serif' font-size="6.2" font-weight="bold" fill="#111" stroke="#111" stroke-width="0.3">v</text>
<text x="147.4" y="464.95" font-family='"Liberation Sans", sans-serif' font-size="5.9" font-weight="bold" fill="#111" stroke="#111" stroke-width="0.3">t</text>
<text x="148" y="472.3" font-family='"Liberation Sans", sans-serif' font-size="5.4" font-weight="bold" fill="#111" stroke="#111" stroke-width="0.3">1</text>
<text x="151.5" y="468.4" font-family='"Liberation Sans", sans-serif' font-size="6.4" font-weight="bold" fill="#111" stroke="#111" stroke-width="0.3">(</text>
<text x="154.1" y="468.6" font-family='"Liberation Serif", serif' font-size="6.6" font-style="italic" fill="#111" stroke="#111" stroke-width="0.15">ϵ</text>
<text x="158.3" y="468.4" font-family='"Liberation Sans", sans-serif' font-size="6.4" font-weight="bold" fill="#111" stroke="#111" stroke-width="0.3">)</text>
<line x1="128.2" y1="480.15" x2="141.2" y2="480.15" stroke="#ff0000" stroke-width="2"/>
<circle cx="135.1" cy="480.15" r="2.05" fill="#ff0000"/>
<text transform="translate(142.9,482.35) scale(1.2,1)" font-family='"Liberation Sans", sans-serif' font-size="6.2" font-weight="bold" fill="#111" stroke="#111" stroke-width="0.3">v</text>
<text x="147.4" y="478.7" font-family='"Liberation Sans", sans-serif' font-size="5.9" font-weight="bold" fill="#111" stroke="#111" stroke-width="0.3">t</text>
<text x="148" y="486.05" font-family='"Liberation Sans", sans-serif' font-size="5.4" font-weight="bold" fill="#111" stroke="#111" stroke-width="0.3">2</text>
<text x="151.5" y="482.15" font-family='"Liberation Sans", sans-serif' font-size="6.4" font-weight="bold" fill="#111" stroke="#111" stroke-width="0.3">(</text>
<text x="154.1" y="482.35" font-family='"Liberation Serif", serif' font-size="6.6" font-style="italic" fill="#111" stroke="#111" stroke-width="0.15">ϵ</text>
<text x="158.3" y="482.15" font-family='"Liberation Sans", sans-serif' font-size="6.4" font-weight="bold" fill="#111" stroke="#111" stroke-width="0.3">)</text>
<line x1="128.2" y1="493.9" x2="141.2" y2="493.9" stroke="#0000ff" stroke-width="2"/>
<circle cx="135.1" cy="493.9" r="2.05" fill="#0000ff"/>
<text transform="translate(142.9,496.1) scale(1.2,1)" font-family='"Liberation Sans", sans-serif' font-size="6.2" font-weight="bold" fill="#111" stroke="#111" stroke-width="0.3">v</text>
<text x="147.4" y="492.45" font-family='"Liberation Sans", sans-serif' font-size="5.9" font-weight="bold" fill="#111" stroke="#111" stroke-width="0.3">t</text>
<text x="148" y="499.8" font-family='"Liberation Sans", sans-serif' font-size="5.4" font-weight="bold" fill="#111" stroke="#111" stroke-width="0.3">3</text>
<text x="151.5" y="495.9" font-family='"Liberation Sans", sans-serif' font-size="6.4" font-weight="bold" fill="#111" stroke="#111" stroke-width="0.3">(</text>
<text x="154.1" y="496.1" font-family='"Liberation Serif", serif' font-size="6.6" font-style="italic" fill="#111" stroke="#111" stroke-width="0.15">ϵ</text>
<text x="158.3" y="495.9" font-family='"Liberation Sans", sans-serif' font-size="6.4" font-weight="bold" fill="#111" stroke="#111" stroke-width="0.3">)</text>
<line x1="208.1" y1="428.5" x2="352.6" y2="428.5" stroke="#111" stroke-width="1" stroke-dasharray="2.9 3.7" stroke-dashoffset="-1.4"/>
<rect x="208.1" y="397.1" width="144.5" height="109.9" fill="none" stroke="#111" stroke-width="1.9"/>
<line x1="224.3" y1="397.1" x2="224.3" y2="399.1" stroke="#111" stroke-width="1.5"/>
<line x1="224.3" y1="507" x2="224.3" y2="505" stroke="#111" stroke-width="1.5"/>
<text transform="translate(224.3,517.5) scale(1.27,1)" font-family='"Liberation Sans", sans-serif' font-size="7.6" font-weight="bold" text-anchor="middle" fill="#1a1a1a" stroke="#1a1a1a" stroke-width="0.3">-1</text>
<line x1="252.3" y1="397.1" x2="252.3" y2="399.1" stroke="#111" stroke-width="1.5"/>
<line x1="252.3" y1="507" x2="252.3" y2="505" stroke="#111" stroke-width="1.5"/>
<text transform="translate(252.3,517.5) scale(1.27,1)" font-family='"Liberation Sans", sans-serif' font-size="7.6" font-weight="bold" text-anchor="middle" fill="#1a1a1a" stroke="#1a1a1a" stroke-width="0.3">-0.5</text>
<line x1="280.3" y1="397.1" x2="280.3" y2="399.1" stroke="#111" stroke-width="1.5"/>
<line x1="280.3" y1="507" x2="280.3" y2="505" stroke="#111" stroke-width="1.5"/>
<text transform="translate(280.3,517.5) scale(1.27,1)" font-family='"Liberation Sans", sans-serif' font-size="7.6" font-weight="bold" text-anchor="middle" fill="#1a1a1a" stroke="#1a1a1a" stroke-width="0.3">0</text>
<line x1="308.3" y1="397.1" x2="308.3" y2="399.1" stroke="#111" stroke-width="1.5"/>
<line x1="308.3" y1="507" x2="308.3" y2="505" stroke="#111" stroke-width="1.5"/>
<text transform="translate(308.3,517.5) scale(1.27,1)" font-family='"Liberation Sans", sans-serif' font-size="7.6" font-weight="bold" text-anchor="middle" fill="#1a1a1a" stroke="#1a1a1a" stroke-width="0.3">0.5</text>
<line x1="336.3" y1="397.1" x2="336.3" y2="399.1" stroke="#111" stroke-width="1.5"/>
<line x1="336.3" y1="507" x2="336.3" y2="505" stroke="#111" stroke-width="1.5"/>
<text transform="translate(336.3,517.5) scale(1.27,1)" font-family='"Liberation Sans", sans-serif' font-size="7.6" font-weight="bold" text-anchor="middle" fill="#1a1a1a" stroke="#1a1a1a" stroke-width="0.3">1</text>
<line x1="208.1" y1="400.9" x2="210.1" y2="400.9" stroke="#111" stroke-width="1.5"/>
<line x1="352.6" y1="400.9" x2="350.6" y2="400.9" stroke="#111" stroke-width="1.5"/>
<text transform="translate(205.4,403.8) scale(1.27,1)" font-family='"Liberation Sans", sans-serif' font-size="7.6" font-weight="bold" text-anchor="end" fill="#1a1a1a" stroke="#1a1a1a" stroke-width="0.3">1</text>
<line x1="208.1" y1="428.9" x2="210.1" y2="428.9" stroke="#111" stroke-width="1.5"/>
<line x1="352.6" y1="428.9" x2="350.6" y2="428.9" stroke="#111" stroke-width="1.5"/>
<text transform="translate(205.4,431.8) scale(1.27,1)" font-family='"Liberation Sans", sans-serif' font-size="7.6" font-weight="bold" text-anchor="end" fill="#1a1a1a" stroke="#1a1a1a" stroke-width="0.3">0</text>
<line x1="208.1" y1="456.9" x2="210.1" y2="456.9" stroke="#111" stroke-width="1.5"/>
<line x1="352.6" y1="456.9" x2="350.6" y2="456.9" stroke="#111" stroke-width="1.5"/>
<text transform="translate(205.4,459.8) scale(1.27,1)" font-family='"Liberation Sans", sans-serif' font-size="7.6" font-weight="bold" text-anchor="end" fill="#1a1a1a" stroke="#1a1a1a" stroke-width="0.3">-1</text>
<line x1="208.1" y1="484.9" x2="210.1" y2="484.9" stroke="#111" stroke-width="1.5"/>
<line x1="352.6" y1="484.9" x2="350.6" y2="484.9" stroke="#111" stroke-width="1.5"/>
<text transform="translate(205.4,487.8) scale(1.27,1)" font-family='"Liberation Sans", sans-serif' font-size="7.6" font-weight="bold" text-anchor="end" fill="#1a1a1a" stroke="#1a1a1a" stroke-width="0.3">-2</text>
<line x1="208.1" y1="400.9" x2="352.6" y2="400.9" stroke="#00ff00" stroke-width="4.6" stroke-linecap="round"/>
<path d="M207.6,460.6 209.4,460.5 211.19,460.4 212.99,460.3 214.78,460.19 216.58,460.09 218.37,459.99 220.17,459.89 221.96,459.79 223.76,459.69 225.55,459.58 227.35,459.48 229.14,459.38 230.94,459.28 232.73,459.18 234.53,459.06 236.32,458.89 238.12,458.71 239.91,458.54 241.71,458.37 243.5,458.2 245.3,458.02 247.09,457.85 248.89,457.68 250.68,457.51 252.48,457.17 254.27,456.58 256.07,455.5 257.86,453.63 259.66,451.76 261.45,449.89 263.25,448.02 265.04,446.11 266.84,444.07 268.63,442.04 270.43,440 272.22,437.96 274.02,435.92 275.81,433.88 277.61,431.84 279.4,429.81 281.2,427.78 282.99,425.77 284.79,423.76 286.58,421.74 288.38,419.73 290.17,417.72 291.97,415.71 293.76,413.7 295.56,411.68 297.35,409.78 299.15,407.91 300.94,406.04 302.74,404.17 304.53,402.3 306.33,401.22 308.12,400.63 309.92,400.29 311.71,400.12 313.51,399.95 315.3,399.78 317.1,399.6 318.89,399.43 320.69,399.26 322.48,399.09 324.28,398.91 326.07,398.74 327.87,398.62 329.66,398.52 331.46,398.42 333.25,398.32 335.05,398.22 336.84,398.11 338.64,398.01 340.43,397.91 342.23,397.81 344.02,397.71 345.82,397.61 347.61,397.5 349.41,397.4 351.2,397.3 353,397.2" fill="none" stroke="#ff0000" stroke-width="3.0" stroke-linejoin="round" marker-start="url(#mr)" marker-mid="url(#mr)" marker-end="url(#mr)"/>
<path d="M207.6,402.6 209.4,403.48 211.19,404.36 212.99,405.24 214.78,406.12 216.58,407.01 218.37,407.89 220.17,408.78 221.96,409.67 223.76,410.56 225.55,411.45 227.35,412.34 229.14,413.23 230.94,414.12 232.73,415.02 234.53,415.91 236.32,416.81 238.12,417.71 239.91,418.6 241.71,419.5 243.5,420.39 245.3,421.23 247.09,422.06 248.89,422.97 250.68,424.04 252.48,425.46 254.27,431.92 256.07,441.08 257.86,449.26 259.66,456.65 261.45,466 263.25,471.66 265.04,478.34 266.84,484.44 268.63,489.76 270.43,494.33 272.22,498.16 274.02,501.35 275.81,504.14 277.61,505.85 279.4,506.84 281.2,506.84 282.99,505.85 284.79,504.14 286.58,501.35 288.38,498.16 290.17,494.33 291.97,489.76 293.76,484.44 295.56,478.34 297.35,471.66 299.15,466 300.94,456.65 302.74,449.26 304.53,441.08 306.33,431.92 308.12,425.46 309.92,424.04 311.71,422.97 313.51,422.06 315.3,421.23 317.1,420.39 318.89,419.5 320.69,418.6 322.48,417.71 324.28,416.81 326.07,415.91 327.87,415.02 329.66,414.12 331.46,413.23 333.25,412.34 335.05,411.45 336.84,410.56 338.64,409.67 340.43,408.78 342.23,407.89 344.02,407.01 345.82,406.12 347.61,405.24 349.41,404.36 351.2,403.48 353,402.6" fill="none" stroke="#0000ff" stroke-width="3.0" stroke-linejoin="round" marker-start="url(#mb)" marker-mid="url(#mb)" marker-end="url(#mb)"/>
<rect x="310.7" y="459.1" width="35.3" height="42.3" fill="#fff" stroke="#111" stroke-width="1.7"/>
<line x1="311.7" y1="466.3" x2="324.7" y2="466.3" stroke="#00ff00" stroke-width="2"/>
<circle cx="318.6" cy="466.3" r="2.05" fill="#00ff00"/>
<text transform="translate(326.4,468.5) scale(1.2,1)" font-family='"Liberation Sans", sans-serif' font-size="6.2" font-weight="bold" fill="#111" stroke="#111" stroke-width="0.3">v</text>
<text x="330.9" y="464.85" font-family='"Liberation Sans", sans-serif' font-size="5.9" font-weight="bold" fill="#111" stroke="#111" stroke-width="0.3">t</text>
<text x="331.5" y="472.2" font-family='"Liberation Sans", sans-serif' font-size="5.4" font-weight="bold" fill="#111" stroke="#111" stroke-width="0.3">1</text>
<text x="335" y="468.3" font-family='"Liberation Sans", sans-serif' font-size="6.4" font-weight="bold" fill="#111" stroke="#111" stroke-width="0.3">(</text>
<text x="337.6" y="468.5" font-family='"Liberation Serif", serif' font-size="6.6" font-style="italic" fill="#111" stroke="#111" stroke-width="0.15">ϵ</text>
<text x="341.8" y="468.3" font-family='"Liberation Sans", sans-serif' font-size="6.4" font-weight="bold" fill="#111" stroke="#111" stroke-width="0.3">)</text>
<line x1="311.7" y1="480.05" x2="324.7" y2="480.05" stroke="#ff0000" stroke-width="2"/>
<circle cx="318.6" cy="480.05" r="2.05" fill="#ff0000"/>
<text transform="translate(326.4,482.25) scale(1.2,1)" font-family='"Liberation Sans", sans-serif' font-size="6.2" font-weight="bold" fill="#111" stroke="#111" stroke-width="0.3">v</text>
<text x="330.9" y="478.6" font-family='"Liberation Sans", sans-serif' font-size="5.9" font-weight="bold" fill="#111" stroke="#111" stroke-width="0.3">t</text>
<text x="331.5" y="485.95" font-family='"Liberation Sans", sans-serif' font-size="5.4" font-weight="bold" fill="#111" stroke="#111" stroke-width="0.3">2</text>
<text x="335" y="482.05" font-family='"Liberation Sans", sans-serif' font-size="6.4" font-weight="bold" fill="#111" stroke="#111" stroke-width="0.3">(</text>
<text x="337.6" y="482.25" font-family='"Liberation Serif", serif' font-size="6.6" font-style="italic" fill="#111" stroke="#111" stroke-width="0.15">ϵ</text>
<text x="341.8" y="482.05" font-family='"Liberation Sans", sans-serif' font-size="6.4" font-weight="bold" fill="#111" stroke="#111" stroke-width="0.3">)</text>
<line x1="311.7" y1="493.8" x2="324.7" y2="493.8" stroke="#0000ff" stroke-width="2"/>
<circle cx="318.6" cy="493.8" r="2.05" fill="#0000ff"/>
<text transform="translate(326.4,496) scale(1.2,1)" font-family='"Liberation Sans", sans-serif' font-size="6.2" font-weight="bold" fill="#111" stroke="#111" stroke-width="0.3">v</text>
<text x="330.9" y="492.35" font-family='"Liberation Sans", sans-serif' font-size="5.9" font-weight="bold" fill="#111" stroke="#111" stroke-width="0.3">t</text>
<text x="331.5" y="499.7" font-family='"Liberation Sans", sans-serif' font-size="5.4" font-weight="bold" fill="#111" stroke="#111" stroke-width="0.3">3</text>
<text x="335" y="495.8" font-family='"Liberation Sans", sans-serif' font-size="6.4" font-weight="bold" fill="#111" stroke="#111" stroke-width="0.3">(</text>
<text x="337.6" y="496" font-family='"Liberation Serif", serif' font-size="6.6" font-style="italic" fill="#111" stroke="#111" stroke-width="0.15">ϵ</text>
<text x="341.8" y="495.8" font-family='"Liberation Sans", sans-serif' font-size="6.4" font-weight="bold" fill="#111" stroke="#111" stroke-width="0.3">)</text>
<line x1="387.6" y1="423.5" x2="532.2" y2="423.5" stroke="#111" stroke-width="1" stroke-dasharray="2.9 3.7" stroke-dashoffset="-1.4"/>
<rect x="387.6" y="397.1" width="144.6" height="110.5" fill="none" stroke="#111" stroke-width="1.9"/>
<line x1="410" y1="397.1" x2="410" y2="399.1" stroke="#111" stroke-width="1.5"/>
<line x1="410" y1="507.6" x2="410" y2="505.6" stroke="#111" stroke-width="1.5"/>
<text transform="translate(410,518.1) scale(1.27,1)" font-family='"Liberation Sans", sans-serif' font-size="7.6" font-weight="bold" text-anchor="middle" fill="#1a1a1a" stroke="#1a1a1a" stroke-width="0.3">-1</text>
<line x1="434.9" y1="397.1" x2="434.9" y2="399.1" stroke="#111" stroke-width="1.5"/>
<line x1="434.9" y1="507.6" x2="434.9" y2="505.6" stroke="#111" stroke-width="1.5"/>
<text transform="translate(434.9,518.1) scale(1.27,1)" font-family='"Liberation Sans", sans-serif' font-size="7.6" font-weight="bold" text-anchor="middle" fill="#1a1a1a" stroke="#1a1a1a" stroke-width="0.3">-0.5</text>
<line x1="459.8" y1="397.1" x2="459.8" y2="399.1" stroke="#111" stroke-width="1.5"/>
<line x1="459.8" y1="507.6" x2="459.8" y2="505.6" stroke="#111" stroke-width="1.5"/>
<text transform="translate(459.8,518.1) scale(1.27,1)" font-family='"Liberation Sans", sans-serif' font-size="7.6" font-weight="bold" text-anchor="middle" fill="#1a1a1a" stroke="#1a1a1a" stroke-width="0.3">0</text>
<line x1="484.7" y1="397.1" x2="484.7" y2="399.1" stroke="#111" stroke-width="1.5"/>
<line x1="484.7" y1="507.6" x2="484.7" y2="505.6" stroke="#111" stroke-width="1.5"/>
<text transform="translate(484.7,518.1) scale(1.27,1)" font-family='"Liberation Sans", sans-serif' font-size="7.6" font-weight="bold" text-anchor="middle" fill="#1a1a1a" stroke="#1a1a1a" stroke-width="0.3">0.5</text>
<line x1="509.6" y1="397.1" x2="509.6" y2="399.1" stroke="#111" stroke-width="1.5"/>
<line x1="509.6" y1="507.6" x2="509.6" y2="505.6" stroke="#111" stroke-width="1.5"/>
<text transform="translate(509.6,518.1) scale(1.27,1)" font-family='"Liberation Sans", sans-serif' font-size="7.6" font-weight="bold" text-anchor="middle" fill="#1a1a1a" stroke="#1a1a1a" stroke-width="0.3">1</text>
<line x1="387.6" y1="399.3" x2="389.6" y2="399.3" stroke="#111" stroke-width="1.5"/>
<line x1="532.2" y1="399.3" x2="530.2" y2="399.3" stroke="#111" stroke-width="1.5"/>
<text transform="translate(384.9,402.2) scale(1.27,1)" font-family='"Liberation Sans", sans-serif' font-size="7.6" font-weight="bold" text-anchor="end" fill="#1a1a1a" stroke="#1a1a1a" stroke-width="0.3">1</text>
<line x1="387.6" y1="423.8" x2="389.6" y2="423.8" stroke="#111" stroke-width="1.5"/>
<line x1="532.2" y1="423.8" x2="530.2" y2="423.8" stroke="#111" stroke-width="1.5"/>
<text transform="translate(384.9,426.7) scale(1.27,1)" font-family='"Liberation Sans", sans-serif' font-size="7.6" font-weight="bold" text-anchor="end" fill="#1a1a1a" stroke="#1a1a1a" stroke-width="0.3">0</text>
<line x1="387.6" y1="448.3" x2="389.6" y2="448.3" stroke="#111" stroke-width="1.5"/>
<line x1="532.2" y1="448.3" x2="530.2" y2="448.3" stroke="#111" stroke-width="1.5"/>
<text transform="translate(384.9,451.2) scale(1.27,1)" font-family='"Liberation Sans", sans-serif' font-size="7.6" font-weight="bold" text-anchor="end" fill="#1a1a1a" stroke="#1a1a1a" stroke-width="0.3">-1</text>
<line x1="387.6" y1="472.8" x2="389.6" y2="472.8" stroke="#111" stroke-width="1.5"/>
<line x1="532.2" y1="472.8" x2="530.2" y2="472.8" stroke="#111" stroke-width="1.5"/>
<text transform="translate(384.9,475.7) scale(1.27,1)" font-family='"Liberation Sans", sans-serif' font-size="7.6" font-weight="bold" text-anchor="end" fill="#1a1a1a" stroke="#1a1a1a" stroke-width="0.3">-2</text>
<line x1="387.6" y1="497.3" x2="389.6" y2="497.3" stroke="#111" stroke-width="1.5"/>
<line x1="532.2" y1="497.3" x2="530.2" y2="497.3" stroke="#111" stroke-width="1.5"/>
<text transform="translate(384.9,500.2) scale(1.27,1)" font-family='"Liberation Sans", sans-serif' font-size="7.6" font-weight="bold" text-anchor="end" fill="#1a1a1a" stroke="#1a1a1a" stroke-width="0.3">-3</text>
<line x1="387.6" y1="399.3" x2="532.2" y2="399.3" stroke="#00ff00" stroke-width="4.6" stroke-linecap="round"/>
<path d="M387.4,450.3 388.01,450.28 388.61,450.26 389.22,450.24 389.82,450.22 390.43,450.2 391.04,450.18 391.64,450.16 392.25,450.14 392.85,450.12 393.46,450.1 394.06,450.09 394.67,450.07 395.28,450.05 395.88,450.03 396.49,450.01 397.09,449.99 397.7,449.97 398.31,449.95 398.91,449.93 399.52,449.91 400.12,449.89 400.73,449.87 401.33,449.85 401.94,449.83 402.55,449.81 403.15,449.79 403.76,449.77 404.36,449.75 404.97,449.73 405.58,449.71 406.18,449.69 406.79,449.67 407.39,449.66 408,449.64 408.61,449.62 409.21,449.59 409.82,449.56 410.42,449.53 411.03,449.5 411.63,449.47 412.24,449.44 412.85,449.42 413.45,449.39 414.06,449.36 414.66,449.33 415.27,449.3 415.88,449.27 416.48,449.24 417.09,449.21 417.69,449.18 418.3,449.15 418.9,449.12 419.51,449.09 420.12,449.06 420.72,449.03 421.33,449 421.93,448.97 422.54,448.94 423.15,448.91 423.75,448.88 424.36,448.85 424.96,448.82 425.57,448.69 426.17,448.45 426.78,448.21 427.39,447.97 427.99,447.73 428.6,447.49 429.2,447.25 429.81,447.01 430.42,446.77 431.02,446.53 431.63,446.29 432.23,446.05 432.84,445.7 433.45,445.2 434.05,444.69 434.66,444.19 435.26,443.69 435.87,443.18 436.47,442.68 437.08,442.18 437.69,441.68 438.29,441.17 438.9,440.67 439.5,440.17 440.11,439.66 440.72,439.16 441.32,438.66 441.93,438.15 442.53,437.65 443.14,437.15 443.74,436.64 444.35,436.14 444.96,435.64 445.56,435.16 446.17,434.69 446.77,434.21 447.38,433.74 447.99,433.26 448.59,432.79 449.2,432.32 449.8,431.84 450.41,431.37 451.02,430.89 451.62,430.42 452.23,429.95 452.83,429.47 453.44,429 454.04,428.52 454.65,428.05 455.26,427.58 455.86,427.1 456.47,426.63 457.07,426.15 457.68,425.68 458.29,425.21 458.89,424.73 459.5,424.26 460.1,423.77 460.71,423.28 461.31,422.79 461.92,422.3 462.53,421.8 463.13,421.31 463.74,420.82 464.34,420.33 464.95,419.84 465.56,419.34 466.16,418.85 466.77,418.36 467.37,417.87 467.98,417.38 468.58,416.88 469.19,416.39 469.8,415.9 470.4,415.41 471.01,414.92 471.61,414.42 472.22,413.93 472.83,413.44 473.43,412.95 474.04,412.46 474.64,411.96 475.25,411.46 475.86,410.96 476.46,410.45 477.07,409.95 477.67,409.45 478.28,408.94 478.88,408.44 479.49,407.94 480.1,407.43 480.7,406.93 481.31,406.43 481.91,405.92 482.52,405.42 483.13,404.92 483.73,404.42 484.34,403.91 484.94,403.41 485.55,402.91 486.15,402.4 486.76,401.9 487.37,401.55 487.97,401.31 488.58,401.07 489.18,400.83 489.79,400.59 490.4,400.35 491,400.11 491.61,399.87 492.21,399.63 492.82,399.39 493.43,399.15 494.03,398.91 494.64,398.78 495.24,398.75 495.85,398.72 496.45,398.69 497.06,398.66 497.67,398.63 498.27,398.6 498.88,398.57 499.48,398.54 500.09,398.51 500.7,398.48 501.3,398.45 501.91,398.42 502.51,398.39 503.12,398.36 503.72,398.33 504.33,398.3 504.94,398.27 505.54,398.24 506.15,398.21 506.75,398.18 507.36,398.16 507.97,398.13 508.57,398.1 509.18,398.07 509.78,398.04 510.39,398.01 510.99,397.98 511.6,397.96 512.21,397.94 512.81,397.93 513.42,397.91 514.02,397.89 514.63,397.87 515.24,397.85 515.84,397.83 516.45,397.81 517.05,397.79 517.66,397.77 518.27,397.75 518.87,397.73 519.48,397.71 520.08,397.69 520.69,397.67 521.29,397.65 521.9,397.63 522.51,397.61 523.11,397.59 523.72,397.57 524.32,397.55 524.93,397.53 525.54,397.51 526.14,397.5 526.75,397.48 527.35,397.46 527.96,397.44 528.56,397.42 529.17,397.4 529.78,397.38 530.38,397.36 530.99,397.34 531.59,397.32 532.2,397.3" fill="none" stroke="#ff0000" stroke-width="3.0" stroke-linejoin="round" marker-start="url(#mr)" marker-mid="url(#mr)" marker-end="url(#mr)"/>
<path d="M387.4,408.4 388.01,408.53 388.62,408.66 389.22,408.78 389.83,408.91 390.44,409.05 391.05,409.18 391.65,409.31 392.26,409.45 392.87,409.58 393.48,409.72 394.08,409.85 394.69,409.99 395.3,410.13 395.91,410.27 396.51,410.41 397.12,410.55 397.73,410.7 398.34,410.84 398.94,410.98 399.55,411.13 400.16,411.27 400.77,411.42 401.37,411.57 401.98,411.72 402.59,411.86 403.2,412.01 403.8,412.16 404.41,412.31 405.02,412.47 405.63,412.62 406.23,412.77 406.84,412.92 407.45,413.08 408.06,413.23 408.66,413.39 409.27,413.54 409.88,413.7 410.49,413.85 411.09,414.01 411.7,414.16 412.31,414.31 412.92,414.47 413.52,414.62 414.13,414.78 414.74,414.94 415.35,415.1 415.95,415.26 416.56,415.42 417.17,415.59 417.78,415.76 418.38,415.94 418.99,416.11 419.6,416.3 420.21,416.48 420.81,416.67 421.42,416.87 422.03,417.07 422.64,417.28 423.24,417.47 423.85,417.66 424.46,417.86 425.07,418.11 425.67,418.41 426.28,418.79 426.89,419.44 427.5,420.47 428.1,421.74 428.71,423.58 429.32,425.72 429.93,427.97 430.53,430.38 431.14,432.9 431.75,435.5 432.36,438.13 432.96,440.75 433.57,443.33 434.18,445.82 434.79,448.27 435.39,450.7 436,453.09 436.61,455.42 437.22,457.66 437.83,459.86 438.43,462.04 439.04,464.23 439.65,466.45 440.26,468.65 440.86,470.82 441.47,472.94 442.08,475.07 442.69,477.15 443.29,479.09 443.9,480.84 444.51,482.48 445.12,484.01 445.72,485.46 446.33,486.82 446.94,488.1 447.55,489.28 448.15,490.38 448.76,491.45 449.37,492.5 449.98,493.56 450.58,494.67 451.19,495.85 451.8,497.09 452.41,498.34 453.01,499.56 453.62,500.71 454.23,501.74 454.84,502.64 455.44,503.51 456.05,504.31 456.66,505.02 457.27,505.61 457.87,506.09 458.48,506.55 459.09,506.94 459.7,507.17 460.3,507.17 460.91,506.94 461.52,506.55 462.13,506.09 462.73,505.61 463.34,505.02 463.95,504.31 464.56,503.51 465.16,502.64 465.77,501.74 466.38,500.71 466.99,499.56 467.59,498.34 468.2,497.09 468.81,495.85 469.42,494.67 470.02,493.56 470.63,492.5 471.24,491.45 471.85,490.38 472.45,489.28 473.06,488.1 473.67,486.82 474.28,485.46 474.88,484.01 475.49,482.48 476.1,480.84 476.71,479.09 477.31,477.15 477.92,475.07 478.53,472.94 479.14,470.82 479.74,468.65 480.35,466.45 480.96,464.23 481.57,462.04 482.17,459.86 482.78,457.66 483.39,455.42 484,453.09 484.61,450.7 485.21,448.27 485.82,445.82 486.43,443.33 487.04,440.75 487.64,438.13 488.25,435.5 488.86,432.9 489.47,430.38 490.07,427.97 490.68,425.72 491.29,423.58 491.9,421.74 492.5,420.47 493.11,419.44 493.72,418.79 494.33,418.41 494.93,418.11 495.54,417.86 496.15,417.66 496.76,417.47 497.36,417.28 497.97,417.07 498.58,416.87 499.19,416.67 499.79,416.48 500.4,416.3 501.01,416.11 501.62,415.94 502.22,415.76 502.83,415.59 503.44,415.42 504.05,415.26 504.65,415.1 505.26,414.94 505.87,414.78 506.48,414.62 507.08,414.47 507.69,414.31 508.3,414.16 508.91,414.01 509.51,413.85 510.12,413.7 510.73,413.54 511.34,413.39 511.94,413.23 512.55,413.08 513.16,412.92 513.77,412.77 514.37,412.62 514.98,412.47 515.59,412.31 516.2,412.16 516.8,412.01 517.41,411.86 518.02,411.72 518.63,411.57 519.23,411.42 519.84,411.27 520.45,411.13 521.06,410.98 521.66,410.84 522.27,410.7 522.88,410.55 523.49,410.41 524.09,410.27 524.7,410.13 525.31,409.99 525.92,409.85 526.52,409.72 527.13,409.58 527.74,409.45 528.35,409.31 528.95,409.18 529.56,409.05 530.17,408.91 530.78,408.78 531.38,408.66 531.99,408.53 532.6,408.4" fill="none" stroke="#0000ff" stroke-width="3.0" stroke-linejoin="round" marker-start="url(#mb)" marker-mid="url(#mb)" marker-end="url(#mb)"/>
<rect x="490.1" y="459.1" width="35.9" height="42.4" fill="#fff" stroke="#111" stroke-width="1.7"/>
<line x1="491.1" y1="466.3" x2="504.1" y2="466.3" stroke="#00ff00" stroke-width="2"/>
<circle cx="498" cy="466.3" r="2.05" fill="#00ff00"/>
<text transform="translate(505.8,468.5) scale(1.2,1)" font-family='"Liberation Sans", sans-serif' font-size="6.2" font-weight="bold" fill="#111" stroke="#111" stroke-width="0.3">v</text>
<text x="510.3" y="464.85" font-family='"Liberation Sans", sans-serif' font-size="5.9" font-weight="bold" fill="#111" stroke="#111" stroke-width="0.3">t</text>
<text x="510.9" y="472.2" font-family='"Liberation Sans", sans-serif' font-size="5.4" font-weight="bold" fill="#111" stroke="#111" stroke-width="0.3">1</text>
<text x="514.4" y="468.3" font-family='"Liberation Sans", sans-serif' font-size="6.4" font-weight="bold" fill="#111" stroke="#111" stroke-width="0.3">(</text>
<text x="517" y="468.5" font-family='"Liberation Serif", serif' font-size="6.6" font-style="italic" fill="#111" stroke="#111" stroke-width="0.15">ϵ</text>
<text x="521.2" y="468.3" font-family='"Liberation Sans", sans-serif' font-size="6.4" font-weight="bold" fill="#111" stroke="#111" stroke-width="0.3">)</text>
<line x1="491.1" y1="480.05" x2="504.1" y2="480.05" stroke="#ff0000" stroke-width="2"/>
<circle cx="498" cy="480.05" r="2.05" fill="#ff0000"/>
<text transform="translate(505.8,482.25) scale(1.2,1)" font-family='"Liberation Sans", sans-serif' font-size="6.2" font-weight="bold" fill="#111" stroke="#111" stroke-width="0.3">v</text>
<text x="510.3" y="478.6" font-family='"Liberation Sans", sans-serif' font-size="5.9" font-weight="bold" fill="#111" stroke="#111" stroke-width="0.3">t</text>
<text x="510.9" y="485.95" font-family='"Liberation Sans", sans-serif' font-size="5.4" font-weight="bold" fill="#111" stroke="#111" stroke-width="0.3">2</text>
<text x="514.4" y="482.05" font-family='"Liberation Sans", sans-serif' font-size="6.4" font-weight="bold" fill="#111" stroke="#111" stroke-width="0.3">(</text>
<text x="517" y="482.25" font-family='"Liberation Serif", serif' font-size="6.6" font-style="italic" fill="#111" stroke="#111" stroke-width="0.15">ϵ</text>
<text x="521.2" y="482.05" font-family='"Liberation Sans", sans-serif' font-size="6.4" font-weight="bold" fill="#111" stroke="#111" stroke-width="0.3">)</text>
<line x1="491.1" y1="493.8" x2="504.1" y2="493.8" stroke="#0000ff" stroke-width="2"/>
<circle cx="498" cy="493.8" r="2.05" fill="#0000ff"/>
<text transform="translate(505.8,496) scale(1.2,1)" font-family='"Liberation Sans", sans-serif' font-size="6.2" font-weight="bold" fill="#111" stroke="#111" stroke-width="0.3">v</text>
<text x="510.3" y="492.35" font-family='"Liberation Sans", sans-serif' font-size="5.9" font-weight="bold" fill="#111" stroke="#111" stroke-width="0.3">t</text>
<text x="510.9" y="499.7" font-family='"Liberation Sans", sans-serif' font-size="5.4" font-weight="bold" fill="#111" stroke="#111" stroke-width="0.3">3</text>
<text x="514.4" y="495.8" font-family='"Liberation Sans", sans-serif' font-size="6.4" font-weight="bold" fill="#111" stroke="#111" stroke-width="0.3">(</text>
<text x="517" y="496" font-family='"Liberation Serif", serif' font-size="6.6" font-style="italic" fill="#111" stroke="#111" stroke-width="0.15">ϵ</text>
<text x="521.2" y="495.8" font-family='"Liberation Sans", sans-serif' font-size="6.4" font-weight="bold" fill="#111" stroke="#111" stroke-width="0.3">)</text>
</svg>
</body></html>
